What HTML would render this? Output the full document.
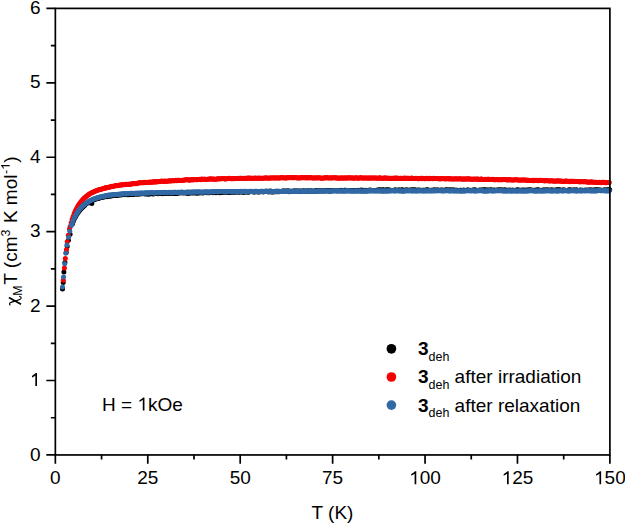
<!DOCTYPE html>
<html><head><meta charset="utf-8"><style>
html,body{margin:0;padding:0;background:#fff;width:625px;height:524px;overflow:hidden}
svg{display:block}
.o{fill-opacity:0}
text{font-family:"Liberation Sans",sans-serif;font-size:19px;fill:#000}
</style></head><body>
<svg width="625" height="524" viewBox="0 0 625 524">
<rect width="625" height="524" fill="#fff"/>
<g fill="#000"><circle cx="62.5" cy="288.9" r="2.5"/><circle cx="63.2" cy="282.4" r="2.5"/><circle cx="63.9" cy="272.0" r="2.5"/><circle cx="64.9" cy="262.5" r="2.5"/><circle cx="66.2" cy="252.5" r="2.5"/><circle cx="67.2" cy="246.5" r="2.5"/><circle cx="68.4" cy="240.3" r="2.5"/><circle cx="70.1" cy="234.3" r="2.5"/><circle cx="72.36" cy="223.99" r="2.5"/><circle cx="73.47" cy="221.10" r="2.5"/><circle cx="74.57" cy="218.58" r="2.5"/><circle cx="75.50" cy="216.72" r="2.5"/><circle cx="76.42" cy="215.04" r="2.5"/><circle cx="77.35" cy="213.53" r="2.5"/><circle cx="78.27" cy="212.16" r="2.5"/><circle cx="79.20" cy="210.90" r="2.5"/><circle cx="80.12" cy="209.76" r="2.5"/><circle cx="81.04" cy="208.72" r="2.5"/><circle cx="81.97" cy="207.76" r="2.5"/><circle cx="82.89" cy="206.88" r="2.5"/><circle cx="83.82" cy="206.07" r="2.5"/><circle cx="84.74" cy="205.32" r="2.5"/><circle cx="85.67" cy="204.12" r="2.5"/><circle cx="86.59" cy="203.47" r="2.5"/><circle cx="87.51" cy="202.88" r="2.5"/><circle cx="88.44" cy="202.32" r="2.5"/><circle cx="89.36" cy="201.80" r="2.5"/><circle cx="90.29" cy="201.31" r="2.5"/><circle cx="91.21" cy="200.86" r="2.5"/><circle cx="92.14" cy="200.44" r="2.5"/><circle cx="93.06" cy="200.04" r="2.5"/><circle cx="93.98" cy="199.67" r="2.5"/><circle cx="94.91" cy="199.33" r="2.5"/><circle cx="95.83" cy="199.00" r="2.5"/><circle cx="96.76" cy="198.70" r="2.5"/><circle cx="97.68" cy="198.41" r="2.5"/><circle cx="98.60" cy="198.14" r="2.5"/><circle cx="99.53" cy="197.89" r="2.5"/><circle cx="100.45" cy="197.42" r="2.5"/><circle cx="101.38" cy="197.47" r="2.5"/><circle cx="102.30" cy="197.10" r="2.5"/><circle cx="103.23" cy="197.11" r="2.5"/><circle cx="104.15" cy="196.94" r="2.5"/><circle cx="105.07" cy="196.26" r="2.5"/><circle cx="106.00" cy="196.05" r="2.5"/><circle cx="106.92" cy="196.64" r="2.5"/><circle cx="107.85" cy="195.97" r="2.5"/><circle cx="108.77" cy="195.80" r="2.5"/><circle cx="109.70" cy="196.36" r="2.5"/><circle cx="110.62" cy="195.76" r="2.5"/><circle cx="111.54" cy="195.97" r="2.5"/><circle cx="112.47" cy="195.54" r="2.5"/><circle cx="113.39" cy="195.58" r="2.5"/><circle cx="114.32" cy="195.04" r="2.5"/><circle cx="115.24" cy="195.38" r="2.5"/><circle cx="116.17" cy="195.49" r="2.5"/><circle cx="117.09" cy="195.10" r="2.5"/><circle cx="118.01" cy="195.21" r="2.5"/><circle cx="118.94" cy="195.07" r="2.5"/><circle cx="119.86" cy="194.45" r="2.5"/><circle cx="120.79" cy="195.01" r="2.5"/><circle cx="121.71" cy="194.79" r="2.5"/><circle cx="122.64" cy="194.46" r="2.5"/><circle cx="123.56" cy="194.16" r="2.5"/><circle cx="124.48" cy="194.85" r="2.5"/><circle cx="125.41" cy="194.44" r="2.5"/><circle cx="126.33" cy="194.61" r="2.5"/><circle cx="127.26" cy="194.70" r="2.5"/><circle cx="128.18" cy="194.51" r="2.5"/><circle cx="129.11" cy="194.65" r="2.5"/><circle cx="130.03" cy="194.13" r="2.5"/><circle cx="130.95" cy="194.45" r="2.5"/><circle cx="131.88" cy="194.09" r="2.5"/><circle cx="132.80" cy="194.49" r="2.5"/><circle cx="133.73" cy="194.40" r="2.5"/><circle cx="134.65" cy="193.66" r="2.5"/><circle cx="135.57" cy="193.66" r="2.5"/><circle cx="136.50" cy="193.70" r="2.5"/><circle cx="137.42" cy="194.34" r="2.5"/><circle cx="138.35" cy="193.83" r="2.5"/><circle cx="139.27" cy="193.97" r="2.5"/><circle cx="140.20" cy="193.65" r="2.5"/><circle cx="141.12" cy="193.80" r="2.5"/><circle cx="142.04" cy="193.66" r="2.5"/><circle cx="142.97" cy="193.60" r="2.5"/><circle cx="143.89" cy="193.79" r="2.5"/><circle cx="144.82" cy="193.76" r="2.5"/><circle cx="145.74" cy="194.02" r="2.5"/><circle cx="146.67" cy="193.80" r="2.5"/><circle cx="147.59" cy="194.00" r="2.5"/><circle cx="148.51" cy="193.91" r="2.5"/><circle cx="149.44" cy="194.01" r="2.5"/><circle cx="150.36" cy="193.70" r="2.5"/><circle cx="151.29" cy="193.22" r="2.5"/><circle cx="152.21" cy="193.82" r="2.5"/><circle cx="153.14" cy="193.89" r="2.5"/><circle cx="154.06" cy="193.82" r="2.5"/><circle cx="154.98" cy="193.50" r="2.5"/><circle cx="155.91" cy="193.61" r="2.5"/><circle cx="156.83" cy="193.14" r="2.5"/><circle cx="157.76" cy="193.67" r="2.5"/><circle cx="158.68" cy="193.42" r="2.5"/><circle cx="159.61" cy="193.15" r="2.5"/><circle cx="160.53" cy="192.93" r="2.5"/><circle cx="161.45" cy="193.62" r="2.5"/><circle cx="162.38" cy="193.73" r="2.5"/><circle cx="163.30" cy="192.90" r="2.5"/><circle cx="164.23" cy="193.52" r="2.5"/><circle cx="165.15" cy="193.15" r="2.5"/><circle cx="166.08" cy="192.90" r="2.5"/><circle cx="167.00" cy="193.01" r="2.5"/><circle cx="167.92" cy="193.43" r="2.5"/><circle cx="168.85" cy="193.50" r="2.5"/><circle cx="169.77" cy="192.74" r="2.5"/><circle cx="170.70" cy="193.24" r="2.5"/><circle cx="171.62" cy="192.71" r="2.5"/><circle cx="172.54" cy="193.30" r="2.5"/><circle cx="173.47" cy="192.94" r="2.5"/><circle cx="174.39" cy="193.42" r="2.5"/><circle cx="175.32" cy="193.49" r="2.5"/><circle cx="176.24" cy="193.05" r="2.5"/><circle cx="177.17" cy="193.48" r="2.5"/><circle cx="178.09" cy="192.84" r="2.5"/><circle cx="179.01" cy="192.62" r="2.5"/><circle cx="179.94" cy="193.08" r="2.5"/><circle cx="180.86" cy="192.55" r="2.5"/><circle cx="181.79" cy="192.69" r="2.5"/><circle cx="182.71" cy="192.86" r="2.5"/><circle cx="183.64" cy="193.03" r="2.5"/><circle cx="184.56" cy="192.61" r="2.5"/><circle cx="185.48" cy="192.49" r="2.5"/><circle cx="186.41" cy="193.22" r="2.5"/><circle cx="187.33" cy="192.71" r="2.5"/><circle cx="188.26" cy="193.28" r="2.5"/><circle cx="189.18" cy="193.21" r="2.5"/><circle cx="190.11" cy="192.73" r="2.5"/><circle cx="191.03" cy="192.79" r="2.5"/><circle cx="191.95" cy="192.83" r="2.5"/><circle cx="192.88" cy="192.93" r="2.5"/><circle cx="193.80" cy="192.87" r="2.5"/><circle cx="194.73" cy="192.83" r="2.5"/><circle cx="195.65" cy="192.87" r="2.5"/><circle cx="196.58" cy="193.15" r="2.5"/><circle cx="197.50" cy="192.75" r="2.5"/><circle cx="198.42" cy="192.67" r="2.5"/><circle cx="199.35" cy="192.91" r="2.5"/><circle cx="200.27" cy="192.47" r="2.5"/><circle cx="201.20" cy="192.51" r="2.5"/><circle cx="202.12" cy="193.11" r="2.5"/><circle cx="203.05" cy="192.69" r="2.5"/><circle cx="203.97" cy="192.70" r="2.5"/><circle cx="204.89" cy="192.19" r="2.5"/><circle cx="205.82" cy="192.54" r="2.5"/><circle cx="206.74" cy="192.67" r="2.5"/><circle cx="207.67" cy="192.15" r="2.5"/><circle cx="208.59" cy="192.67" r="2.5"/><circle cx="209.51" cy="192.66" r="2.5"/><circle cx="210.44" cy="192.13" r="2.5"/><circle cx="211.36" cy="192.62" r="2.5"/><circle cx="212.29" cy="192.46" r="2.5"/><circle cx="213.21" cy="192.63" r="2.5"/><circle cx="214.14" cy="192.32" r="2.5"/><circle cx="215.06" cy="192.62" r="2.5"/><circle cx="215.98" cy="192.64" r="2.5"/><circle cx="216.91" cy="191.97" r="2.5"/><circle cx="217.83" cy="191.99" r="2.5"/><circle cx="218.76" cy="192.53" r="2.5"/><circle cx="219.68" cy="192.77" r="2.5"/><circle cx="220.61" cy="192.11" r="2.5"/><circle cx="221.53" cy="192.28" r="2.5"/><circle cx="222.45" cy="192.39" r="2.5"/><circle cx="223.38" cy="192.12" r="2.5"/><circle cx="224.30" cy="192.15" r="2.5"/><circle cx="225.23" cy="192.08" r="2.5"/><circle cx="226.15" cy="192.12" r="2.5"/><circle cx="227.08" cy="192.30" r="2.5"/><circle cx="228.00" cy="192.02" r="2.5"/><circle cx="228.92" cy="192.08" r="2.5"/><circle cx="229.85" cy="192.41" r="2.5"/><circle cx="230.77" cy="191.73" r="2.5"/><circle cx="231.70" cy="192.20" r="2.5"/><circle cx="232.62" cy="192.33" r="2.5"/><circle cx="233.55" cy="191.93" r="2.5"/><circle cx="234.47" cy="191.84" r="2.5"/><circle cx="235.39" cy="192.35" r="2.5"/><circle cx="236.32" cy="191.82" r="2.5"/><circle cx="237.24" cy="191.76" r="2.5"/><circle cx="238.17" cy="191.97" r="2.5"/><circle cx="239.09" cy="192.19" r="2.5"/><circle cx="240.02" cy="191.64" r="2.5"/><circle cx="240.94" cy="191.82" r="2.5"/><circle cx="241.86" cy="191.82" r="2.5"/><circle cx="242.79" cy="192.25" r="2.5"/><circle cx="243.71" cy="191.88" r="2.5"/><circle cx="244.64" cy="192.24" r="2.5"/><circle cx="245.56" cy="191.61" r="2.5"/><circle cx="246.48" cy="191.74" r="2.5"/><circle cx="247.41" cy="192.01" r="2.5"/><circle cx="248.33" cy="192.21" r="2.5"/><circle cx="249.26" cy="191.80" r="2.5"/><circle cx="250.18" cy="191.58" r="2.5"/><circle cx="251.11" cy="191.47" r="2.5"/><circle cx="252.03" cy="191.83" r="2.5"/><circle cx="252.95" cy="191.51" r="2.5"/><circle cx="253.88" cy="192.05" r="2.5"/><circle cx="254.80" cy="192.06" r="2.5"/><circle cx="255.73" cy="191.46" r="2.5"/><circle cx="256.65" cy="191.53" r="2.5"/><circle cx="257.58" cy="191.99" r="2.5"/><circle cx="258.50" cy="191.83" r="2.5"/><circle cx="259.42" cy="191.96" r="2.5"/><circle cx="260.35" cy="191.53" r="2.5"/><circle cx="261.27" cy="191.33" r="2.5"/><circle cx="262.20" cy="191.46" r="2.5"/><circle cx="263.12" cy="191.90" r="2.5"/><circle cx="264.05" cy="191.41" r="2.5"/><circle cx="264.97" cy="191.47" r="2.5"/><circle cx="265.89" cy="191.51" r="2.5"/><circle cx="266.82" cy="191.50" r="2.5"/><circle cx="267.74" cy="191.48" r="2.5"/><circle cx="268.67" cy="191.93" r="2.5"/><circle cx="269.59" cy="191.23" r="2.5"/><circle cx="270.52" cy="191.08" r="2.5"/><circle cx="271.44" cy="191.91" r="2.5"/><circle cx="272.36" cy="191.84" r="2.5"/><circle cx="273.29" cy="191.92" r="2.5"/><circle cx="274.21" cy="191.41" r="2.5"/><circle cx="275.14" cy="191.86" r="2.5"/><circle cx="276.06" cy="191.83" r="2.5"/><circle cx="276.99" cy="191.18" r="2.5"/><circle cx="277.91" cy="191.64" r="2.5"/><circle cx="278.83" cy="191.71" r="2.5"/><circle cx="279.76" cy="191.54" r="2.5"/><circle cx="280.68" cy="191.40" r="2.5"/><circle cx="281.61" cy="191.18" r="2.5"/><circle cx="282.53" cy="191.21" r="2.5"/><circle cx="283.45" cy="191.10" r="2.5"/><circle cx="284.38" cy="190.94" r="2.5"/><circle cx="285.30" cy="191.40" r="2.5"/><circle cx="286.23" cy="191.11" r="2.5"/><circle cx="287.15" cy="191.57" r="2.5"/><circle cx="288.08" cy="190.87" r="2.5"/><circle cx="289.00" cy="191.63" r="2.5"/><circle cx="289.92" cy="191.43" r="2.5"/><circle cx="290.85" cy="191.62" r="2.5"/><circle cx="291.77" cy="191.59" r="2.5"/><circle cx="292.70" cy="191.58" r="2.5"/><circle cx="293.62" cy="191.28" r="2.5"/><circle cx="294.55" cy="190.76" r="2.5"/><circle cx="295.47" cy="191.40" r="2.5"/><circle cx="296.39" cy="190.88" r="2.5"/><circle cx="297.32" cy="190.98" r="2.5"/><circle cx="298.24" cy="191.29" r="2.5"/><circle cx="299.17" cy="191.16" r="2.5"/><circle cx="300.09" cy="191.05" r="2.5"/><circle cx="301.02" cy="191.51" r="2.5"/><circle cx="301.94" cy="191.20" r="2.5"/><circle cx="302.86" cy="190.95" r="2.5"/><circle cx="303.79" cy="190.86" r="2.5"/><circle cx="304.71" cy="191.39" r="2.5"/><circle cx="305.64" cy="191.04" r="2.5"/><circle cx="306.56" cy="191.30" r="2.5"/><circle cx="307.49" cy="190.90" r="2.5"/><circle cx="308.41" cy="190.75" r="2.5"/><circle cx="309.33" cy="191.04" r="2.5"/><circle cx="310.26" cy="191.29" r="2.5"/><circle cx="311.18" cy="190.69" r="2.5"/><circle cx="312.11" cy="191.24" r="2.5"/><circle cx="313.03" cy="191.35" r="2.5"/><circle cx="313.96" cy="191.23" r="2.5"/><circle cx="314.88" cy="191.24" r="2.5"/><circle cx="315.80" cy="190.49" r="2.5"/><circle cx="316.73" cy="191.04" r="2.5"/><circle cx="317.65" cy="191.24" r="2.5"/><circle cx="318.58" cy="190.50" r="2.5"/><circle cx="319.50" cy="190.69" r="2.5"/><circle cx="320.42" cy="190.67" r="2.5"/><circle cx="321.35" cy="190.90" r="2.5"/><circle cx="322.27" cy="190.79" r="2.5"/><circle cx="323.20" cy="190.83" r="2.5"/><circle cx="324.12" cy="191.09" r="2.5"/><circle cx="325.05" cy="190.38" r="2.5"/><circle cx="325.97" cy="190.42" r="2.5"/><circle cx="326.89" cy="190.47" r="2.5"/><circle cx="327.82" cy="190.46" r="2.5"/><circle cx="328.74" cy="190.40" r="2.5"/><circle cx="329.67" cy="191.21" r="2.5"/><circle cx="330.59" cy="191.09" r="2.5"/><circle cx="331.52" cy="190.39" r="2.5"/><circle cx="332.44" cy="190.75" r="2.5"/><circle cx="333.36" cy="190.57" r="2.5"/><circle cx="334.29" cy="190.56" r="2.5"/><circle cx="335.21" cy="190.58" r="2.5"/><circle cx="336.14" cy="190.84" r="2.5"/><circle cx="337.06" cy="190.78" r="2.5"/><circle cx="337.99" cy="190.56" r="2.5"/><circle cx="338.91" cy="190.40" r="2.5"/><circle cx="339.83" cy="190.52" r="2.5"/><circle cx="340.76" cy="190.32" r="2.5"/><circle cx="341.68" cy="190.70" r="2.5"/><circle cx="342.61" cy="190.84" r="2.5"/><circle cx="343.53" cy="190.52" r="2.5"/><circle cx="344.46" cy="190.24" r="2.5"/><circle cx="345.38" cy="190.32" r="2.5"/><circle cx="346.30" cy="190.49" r="2.5"/><circle cx="347.23" cy="190.69" r="2.5"/><circle cx="348.15" cy="190.84" r="2.5"/><circle cx="349.08" cy="190.47" r="2.5"/><circle cx="350.00" cy="190.84" r="2.5"/><circle cx="350.93" cy="190.67" r="2.5"/><circle cx="351.85" cy="190.49" r="2.5"/><circle cx="352.77" cy="190.42" r="2.5"/><circle cx="353.70" cy="190.53" r="2.5"/><circle cx="354.62" cy="190.70" r="2.5"/><circle cx="355.55" cy="190.44" r="2.5"/><circle cx="356.47" cy="190.68" r="2.5"/><circle cx="357.39" cy="190.46" r="2.5"/><circle cx="358.32" cy="190.25" r="2.5"/><circle cx="359.24" cy="190.51" r="2.5"/><circle cx="360.17" cy="190.64" r="2.5"/><circle cx="361.09" cy="190.07" r="2.5"/><circle cx="362.02" cy="190.38" r="2.5"/><circle cx="362.94" cy="190.37" r="2.5"/><circle cx="363.86" cy="190.77" r="2.5"/><circle cx="364.79" cy="190.81" r="2.5"/><circle cx="365.71" cy="190.30" r="2.5"/><circle cx="366.64" cy="190.76" r="2.5"/><circle cx="367.56" cy="190.66" r="2.5"/><circle cx="368.49" cy="190.17" r="2.5"/><circle cx="369.41" cy="190.35" r="2.5"/><circle cx="370.33" cy="190.03" r="2.5"/><circle cx="371.26" cy="190.64" r="2.5"/><circle cx="372.18" cy="190.50" r="2.5"/><circle cx="373.11" cy="190.69" r="2.5"/><circle cx="374.03" cy="190.60" r="2.5"/><circle cx="374.96" cy="190.48" r="2.5"/><circle cx="375.88" cy="190.53" r="2.5"/><circle cx="376.80" cy="190.37" r="2.5"/><circle cx="377.73" cy="189.95" r="2.5"/><circle cx="378.65" cy="190.37" r="2.5"/><circle cx="379.58" cy="189.84" r="2.5"/><circle cx="380.50" cy="189.96" r="2.5"/><circle cx="381.43" cy="190.52" r="2.5"/><circle cx="382.35" cy="189.85" r="2.5"/><circle cx="383.27" cy="189.89" r="2.5"/><circle cx="384.20" cy="189.88" r="2.5"/><circle cx="385.12" cy="190.58" r="2.5"/><circle cx="386.05" cy="189.94" r="2.5"/><circle cx="386.97" cy="189.79" r="2.5"/><circle cx="387.90" cy="190.52" r="2.5"/><circle cx="388.82" cy="189.87" r="2.5"/><circle cx="389.74" cy="190.52" r="2.5"/><circle cx="390.67" cy="190.36" r="2.5"/><circle cx="391.59" cy="190.51" r="2.5"/><circle cx="392.52" cy="190.61" r="2.5"/><circle cx="393.44" cy="190.28" r="2.5"/><circle cx="394.36" cy="190.47" r="2.5"/><circle cx="395.29" cy="189.79" r="2.5"/><circle cx="396.21" cy="190.44" r="2.5"/><circle cx="397.14" cy="190.21" r="2.5"/><circle cx="398.06" cy="190.40" r="2.5"/><circle cx="398.99" cy="189.85" r="2.5"/><circle cx="399.91" cy="190.42" r="2.5"/><circle cx="400.83" cy="190.59" r="2.5"/><circle cx="401.76" cy="189.80" r="2.5"/><circle cx="402.68" cy="190.04" r="2.5"/><circle cx="403.61" cy="190.26" r="2.5"/><circle cx="404.53" cy="190.49" r="2.5"/><circle cx="405.46" cy="189.96" r="2.5"/><circle cx="406.38" cy="189.91" r="2.5"/><circle cx="407.30" cy="189.97" r="2.5"/><circle cx="408.23" cy="190.30" r="2.5"/><circle cx="409.15" cy="190.42" r="2.5"/><circle cx="410.08" cy="190.10" r="2.5"/><circle cx="411.00" cy="190.07" r="2.5"/><circle cx="411.93" cy="190.10" r="2.5"/><circle cx="412.85" cy="190.06" r="2.5"/><circle cx="413.77" cy="190.12" r="2.5"/><circle cx="414.70" cy="189.82" r="2.5"/><circle cx="415.62" cy="190.19" r="2.5"/><circle cx="416.55" cy="190.62" r="2.5"/><circle cx="417.47" cy="190.11" r="2.5"/><circle cx="418.40" cy="190.41" r="2.5"/><circle cx="419.32" cy="189.88" r="2.5"/><circle cx="420.24" cy="190.36" r="2.5"/><circle cx="421.17" cy="190.42" r="2.5"/><circle cx="422.09" cy="190.35" r="2.5"/><circle cx="423.02" cy="190.20" r="2.5"/><circle cx="423.94" cy="190.17" r="2.5"/><circle cx="424.87" cy="190.32" r="2.5"/><circle cx="425.79" cy="190.55" r="2.5"/><circle cx="426.71" cy="189.87" r="2.5"/><circle cx="427.64" cy="189.82" r="2.5"/><circle cx="428.56" cy="190.41" r="2.5"/><circle cx="429.49" cy="190.56" r="2.5"/><circle cx="430.41" cy="190.20" r="2.5"/><circle cx="431.33" cy="190.14" r="2.5"/><circle cx="432.26" cy="190.38" r="2.5"/><circle cx="433.18" cy="189.90" r="2.5"/><circle cx="434.11" cy="189.98" r="2.5"/><circle cx="435.03" cy="189.92" r="2.5"/><circle cx="435.96" cy="190.26" r="2.5"/><circle cx="436.88" cy="190.02" r="2.5"/><circle cx="437.80" cy="189.95" r="2.5"/><circle cx="438.73" cy="190.36" r="2.5"/><circle cx="439.65" cy="190.59" r="2.5"/><circle cx="440.58" cy="190.00" r="2.5"/><circle cx="441.50" cy="190.37" r="2.5"/><circle cx="442.43" cy="190.11" r="2.5"/><circle cx="443.35" cy="190.50" r="2.5"/><circle cx="444.27" cy="190.26" r="2.5"/><circle cx="445.20" cy="189.98" r="2.5"/><circle cx="446.12" cy="189.93" r="2.5"/><circle cx="447.05" cy="189.76" r="2.5"/><circle cx="447.97" cy="190.17" r="2.5"/><circle cx="448.90" cy="190.08" r="2.5"/><circle cx="449.82" cy="189.89" r="2.5"/><circle cx="450.74" cy="190.06" r="2.5"/><circle cx="451.67" cy="190.03" r="2.5"/><circle cx="452.59" cy="190.43" r="2.5"/><circle cx="453.52" cy="189.87" r="2.5"/><circle cx="454.44" cy="190.63" r="2.5"/><circle cx="455.37" cy="190.17" r="2.5"/><circle cx="456.29" cy="190.28" r="2.5"/><circle cx="457.21" cy="190.16" r="2.5"/><circle cx="458.14" cy="190.49" r="2.5"/><circle cx="459.06" cy="190.48" r="2.5"/><circle cx="459.99" cy="190.24" r="2.5"/><circle cx="460.91" cy="190.17" r="2.5"/><circle cx="461.84" cy="190.39" r="2.5"/><circle cx="462.76" cy="190.51" r="2.5"/><circle cx="463.68" cy="190.10" r="2.5"/><circle cx="464.61" cy="190.40" r="2.5"/><circle cx="465.53" cy="190.60" r="2.5"/><circle cx="466.46" cy="190.16" r="2.5"/><circle cx="467.38" cy="189.95" r="2.5"/><circle cx="468.30" cy="189.95" r="2.5"/><circle cx="469.23" cy="190.39" r="2.5"/><circle cx="470.15" cy="190.35" r="2.5"/><circle cx="471.08" cy="190.60" r="2.5"/><circle cx="472.00" cy="190.51" r="2.5"/><circle cx="472.93" cy="189.96" r="2.5"/><circle cx="473.85" cy="189.91" r="2.5"/><circle cx="474.77" cy="189.97" r="2.5"/><circle cx="475.70" cy="189.91" r="2.5"/><circle cx="476.62" cy="190.38" r="2.5"/><circle cx="477.55" cy="190.51" r="2.5"/><circle cx="478.47" cy="190.55" r="2.5"/><circle cx="479.40" cy="189.97" r="2.5"/><circle cx="480.32" cy="190.52" r="2.5"/><circle cx="481.24" cy="190.02" r="2.5"/><circle cx="482.17" cy="190.12" r="2.5"/><circle cx="483.09" cy="190.40" r="2.5"/><circle cx="484.02" cy="189.82" r="2.5"/><circle cx="484.94" cy="189.83" r="2.5"/><circle cx="485.87" cy="190.49" r="2.5"/><circle cx="486.79" cy="190.01" r="2.5"/><circle cx="487.71" cy="190.06" r="2.5"/><circle cx="488.64" cy="190.27" r="2.5"/><circle cx="489.56" cy="190.35" r="2.5"/><circle cx="490.49" cy="189.75" r="2.5"/><circle cx="491.41" cy="190.04" r="2.5"/><circle cx="492.34" cy="190.14" r="2.5"/><circle cx="493.26" cy="190.18" r="2.5"/><circle cx="494.18" cy="189.93" r="2.5"/><circle cx="495.11" cy="190.27" r="2.5"/><circle cx="496.03" cy="190.60" r="2.5"/><circle cx="496.96" cy="190.10" r="2.5"/><circle cx="497.88" cy="190.23" r="2.5"/><circle cx="498.81" cy="189.85" r="2.5"/><circle cx="499.73" cy="189.99" r="2.5"/><circle cx="500.65" cy="190.34" r="2.5"/><circle cx="501.58" cy="189.85" r="2.5"/><circle cx="502.50" cy="190.54" r="2.5"/><circle cx="503.43" cy="190.56" r="2.5"/><circle cx="504.35" cy="189.83" r="2.5"/><circle cx="505.27" cy="190.59" r="2.5"/><circle cx="506.20" cy="190.08" r="2.5"/><circle cx="507.12" cy="190.44" r="2.5"/><circle cx="508.05" cy="190.43" r="2.5"/><circle cx="508.97" cy="190.01" r="2.5"/><circle cx="509.90" cy="190.35" r="2.5"/><circle cx="510.82" cy="190.33" r="2.5"/><circle cx="511.74" cy="190.47" r="2.5"/><circle cx="512.67" cy="189.98" r="2.5"/><circle cx="513.59" cy="190.42" r="2.5"/><circle cx="514.52" cy="190.61" r="2.5"/><circle cx="515.44" cy="190.35" r="2.5"/><circle cx="516.37" cy="190.23" r="2.5"/><circle cx="517.29" cy="189.85" r="2.5"/><circle cx="518.21" cy="190.19" r="2.5"/><circle cx="519.14" cy="190.06" r="2.5"/><circle cx="520.06" cy="190.39" r="2.5"/><circle cx="520.99" cy="190.35" r="2.5"/><circle cx="521.91" cy="190.25" r="2.5"/><circle cx="522.84" cy="189.91" r="2.5"/><circle cx="523.76" cy="190.32" r="2.5"/><circle cx="524.68" cy="190.31" r="2.5"/><circle cx="525.61" cy="189.90" r="2.5"/><circle cx="526.53" cy="190.54" r="2.5"/><circle cx="527.46" cy="190.33" r="2.5"/><circle cx="528.38" cy="189.85" r="2.5"/><circle cx="529.31" cy="190.58" r="2.5"/><circle cx="530.23" cy="189.87" r="2.5"/><circle cx="531.15" cy="190.04" r="2.5"/><circle cx="532.08" cy="190.39" r="2.5"/><circle cx="533.00" cy="190.28" r="2.5"/><circle cx="533.93" cy="190.24" r="2.5"/><circle cx="534.85" cy="190.32" r="2.5"/><circle cx="535.78" cy="190.15" r="2.5"/><circle cx="536.70" cy="190.02" r="2.5"/><circle cx="537.62" cy="189.90" r="2.5"/><circle cx="538.55" cy="189.80" r="2.5"/><circle cx="539.47" cy="190.38" r="2.5"/><circle cx="540.40" cy="190.42" r="2.5"/><circle cx="541.32" cy="190.23" r="2.5"/><circle cx="542.24" cy="190.40" r="2.5"/><circle cx="543.17" cy="190.06" r="2.5"/><circle cx="544.09" cy="189.97" r="2.5"/><circle cx="545.02" cy="190.08" r="2.5"/><circle cx="545.94" cy="190.52" r="2.5"/><circle cx="546.87" cy="189.77" r="2.5"/><circle cx="547.79" cy="190.19" r="2.5"/><circle cx="548.71" cy="189.95" r="2.5"/><circle cx="549.64" cy="190.42" r="2.5"/><circle cx="550.56" cy="190.05" r="2.5"/><circle cx="551.49" cy="190.03" r="2.5"/><circle cx="552.41" cy="190.09" r="2.5"/><circle cx="553.34" cy="190.22" r="2.5"/><circle cx="554.26" cy="190.42" r="2.5"/><circle cx="555.18" cy="190.04" r="2.5"/><circle cx="556.11" cy="190.49" r="2.5"/><circle cx="557.03" cy="189.83" r="2.5"/><circle cx="557.96" cy="189.97" r="2.5"/><circle cx="558.88" cy="189.81" r="2.5"/><circle cx="559.81" cy="189.82" r="2.5"/><circle cx="560.73" cy="190.42" r="2.5"/><circle cx="561.65" cy="190.38" r="2.5"/><circle cx="562.58" cy="189.89" r="2.5"/><circle cx="563.50" cy="189.89" r="2.5"/><circle cx="564.43" cy="190.09" r="2.5"/><circle cx="565.35" cy="190.39" r="2.5"/><circle cx="566.28" cy="190.45" r="2.5"/><circle cx="567.20" cy="190.39" r="2.5"/><circle cx="568.12" cy="190.25" r="2.5"/><circle cx="569.05" cy="189.84" r="2.5"/><circle cx="569.97" cy="190.07" r="2.5"/><circle cx="570.90" cy="189.88" r="2.5"/><circle cx="571.82" cy="190.18" r="2.5"/><circle cx="572.75" cy="190.22" r="2.5"/><circle cx="573.67" cy="189.89" r="2.5"/><circle cx="574.59" cy="189.93" r="2.5"/><circle cx="575.52" cy="190.41" r="2.5"/><circle cx="576.44" cy="189.73" r="2.5"/><circle cx="577.37" cy="190.42" r="2.5"/><circle cx="578.29" cy="190.50" r="2.5"/><circle cx="579.21" cy="190.55" r="2.5"/><circle cx="580.14" cy="190.04" r="2.5"/><circle cx="581.06" cy="190.19" r="2.5"/><circle cx="581.99" cy="190.22" r="2.5"/><circle cx="582.91" cy="190.26" r="2.5"/><circle cx="583.84" cy="190.57" r="2.5"/><circle cx="584.76" cy="190.31" r="2.5"/><circle cx="585.68" cy="189.96" r="2.5"/><circle cx="586.61" cy="190.46" r="2.5"/><circle cx="587.53" cy="190.12" r="2.5"/><circle cx="588.46" cy="190.22" r="2.5"/><circle cx="589.38" cy="190.33" r="2.5"/><circle cx="590.31" cy="189.68" r="2.5"/><circle cx="591.23" cy="190.37" r="2.5"/><circle cx="592.15" cy="190.27" r="2.5"/><circle cx="593.08" cy="190.11" r="2.5"/><circle cx="594.00" cy="190.14" r="2.5"/><circle cx="594.93" cy="190.08" r="2.5"/><circle cx="595.85" cy="189.84" r="2.5"/><circle cx="596.78" cy="190.14" r="2.5"/><circle cx="597.70" cy="189.69" r="2.5"/><circle cx="598.62" cy="190.11" r="2.5"/><circle cx="599.55" cy="190.24" r="2.5"/><circle cx="600.47" cy="190.05" r="2.5"/><circle cx="601.40" cy="190.16" r="2.5"/><circle cx="602.32" cy="190.51" r="2.5"/><circle cx="603.25" cy="190.45" r="2.5"/><circle cx="604.17" cy="189.77" r="2.5"/><circle cx="605.09" cy="190.36" r="2.5"/><circle cx="606.02" cy="190.20" r="2.5"/><circle cx="606.94" cy="189.68" r="2.5"/><circle cx="607.87" cy="189.96" r="2.5"/><circle cx="608.79" cy="189.84" r="2.5"/><circle cx="609.72" cy="189.70" r="2.5"/><circle cx="91.8" cy="203.5" r="2.5"/></g>
<g fill="#f50000"><circle cx="63.3" cy="280.3" r="2.5"/><circle cx="64.4" cy="268.1" r="2.5"/><circle cx="65.3" cy="258.5" r="2.5"/><circle cx="66.4" cy="249.7" r="2.5"/><circle cx="67.2" cy="241.8" r="2.5"/><circle cx="68.3" cy="235.3" r="2.5"/><circle cx="69.5" cy="229.0" r="2.5"/><circle cx="70.14" cy="226.58" r="2.5"/><circle cx="71.14" cy="222.72" r="2.5"/><circle cx="72.13" cy="219.36" r="2.5"/><circle cx="73.13" cy="216.40" r="2.5"/><circle cx="74.13" cy="213.79" r="2.5"/><circle cx="75.06" cy="211.62" r="2.5"/><circle cx="75.98" cy="209.67" r="2.5"/><circle cx="76.90" cy="207.89" r="2.5"/><circle cx="77.83" cy="206.28" r="2.5"/><circle cx="78.75" cy="204.79" r="2.5"/><circle cx="79.68" cy="203.43" r="2.5"/><circle cx="80.60" cy="202.18" r="2.5"/><circle cx="81.52" cy="201.02" r="2.5"/><circle cx="82.45" cy="199.95" r="2.5"/><circle cx="83.37" cy="198.97" r="2.5"/><circle cx="84.30" cy="198.05" r="2.5"/><circle cx="85.22" cy="197.20" r="2.5"/><circle cx="86.15" cy="196.42" r="2.5"/><circle cx="87.07" cy="195.69" r="2.5"/><circle cx="87.99" cy="195.02" r="2.5"/><circle cx="88.92" cy="194.40" r="2.5"/><circle cx="89.84" cy="193.82" r="2.5"/><circle cx="90.77" cy="193.28" r="2.5"/><circle cx="91.69" cy="192.78" r="2.5"/><circle cx="92.62" cy="192.31" r="2.5"/><circle cx="93.54" cy="191.88" r="2.5"/><circle cx="94.46" cy="191.46" r="2.5"/><circle cx="95.39" cy="191.08" r="2.5"/><circle cx="96.31" cy="190.71" r="2.5"/><circle cx="97.24" cy="190.36" r="2.5"/><circle cx="98.16" cy="190.03" r="2.5"/><circle cx="99.09" cy="189.72" r="2.5"/><circle cx="100.01" cy="189.50" r="2.5"/><circle cx="100.93" cy="189.28" r="2.5"/><circle cx="101.86" cy="189.05" r="2.5"/><circle cx="102.78" cy="188.87" r="2.5"/><circle cx="103.71" cy="188.50" r="2.5"/><circle cx="104.63" cy="188.38" r="2.5"/><circle cx="105.56" cy="187.61" r="2.5"/><circle cx="106.48" cy="187.66" r="2.5"/><circle cx="107.40" cy="187.73" r="2.5"/><circle cx="108.33" cy="187.35" r="2.5"/><circle cx="109.25" cy="187.31" r="2.5"/><circle cx="110.18" cy="186.65" r="2.5"/><circle cx="111.10" cy="186.68" r="2.5"/><circle cx="112.03" cy="186.37" r="2.5"/><circle cx="112.95" cy="186.38" r="2.5"/><circle cx="113.87" cy="186.23" r="2.5"/><circle cx="114.80" cy="185.74" r="2.5"/><circle cx="115.72" cy="185.71" r="2.5"/><circle cx="116.65" cy="185.60" r="2.5"/><circle cx="117.57" cy="185.84" r="2.5"/><circle cx="118.49" cy="185.61" r="2.5"/><circle cx="119.42" cy="185.11" r="2.5"/><circle cx="120.34" cy="185.36" r="2.5"/><circle cx="121.27" cy="184.84" r="2.5"/><circle cx="122.19" cy="185.01" r="2.5"/><circle cx="123.12" cy="184.59" r="2.5"/><circle cx="124.04" cy="184.40" r="2.5"/><circle cx="124.96" cy="184.81" r="2.5"/><circle cx="125.89" cy="184.30" r="2.5"/><circle cx="126.81" cy="184.19" r="2.5"/><circle cx="127.74" cy="184.55" r="2.5"/><circle cx="128.66" cy="184.38" r="2.5"/><circle cx="129.59" cy="183.93" r="2.5"/><circle cx="130.51" cy="184.23" r="2.5"/><circle cx="131.43" cy="183.88" r="2.5"/><circle cx="132.36" cy="183.87" r="2.5"/><circle cx="133.28" cy="183.49" r="2.5"/><circle cx="134.21" cy="183.84" r="2.5"/><circle cx="135.13" cy="183.60" r="2.5"/><circle cx="136.06" cy="183.68" r="2.5"/><circle cx="136.98" cy="183.55" r="2.5"/><circle cx="137.90" cy="183.10" r="2.5"/><circle cx="138.83" cy="183.06" r="2.5"/><circle cx="139.75" cy="182.86" r="2.5"/><circle cx="140.68" cy="182.76" r="2.5"/><circle cx="141.60" cy="182.63" r="2.5"/><circle cx="142.53" cy="182.70" r="2.5"/><circle cx="143.45" cy="182.80" r="2.5"/><circle cx="144.37" cy="182.36" r="2.5"/><circle cx="145.30" cy="182.69" r="2.5"/><circle cx="146.22" cy="182.41" r="2.5"/><circle cx="147.15" cy="182.32" r="2.5"/><circle cx="148.07" cy="182.56" r="2.5"/><circle cx="149.00" cy="182.28" r="2.5"/><circle cx="149.92" cy="182.11" r="2.5"/><circle cx="150.84" cy="182.14" r="2.5"/><circle cx="151.77" cy="182.21" r="2.5"/><circle cx="152.69" cy="181.75" r="2.5"/><circle cx="153.62" cy="182.23" r="2.5"/><circle cx="154.54" cy="181.60" r="2.5"/><circle cx="155.46" cy="181.97" r="2.5"/><circle cx="156.39" cy="181.96" r="2.5"/><circle cx="157.31" cy="181.40" r="2.5"/><circle cx="158.24" cy="181.80" r="2.5"/><circle cx="159.16" cy="181.48" r="2.5"/><circle cx="160.09" cy="181.55" r="2.5"/><circle cx="161.01" cy="181.15" r="2.5"/><circle cx="161.93" cy="181.11" r="2.5"/><circle cx="162.86" cy="181.13" r="2.5"/><circle cx="163.78" cy="181.54" r="2.5"/><circle cx="164.71" cy="181.02" r="2.5"/><circle cx="165.63" cy="181.30" r="2.5"/><circle cx="166.56" cy="181.35" r="2.5"/><circle cx="167.48" cy="181.30" r="2.5"/><circle cx="168.40" cy="180.89" r="2.5"/><circle cx="169.33" cy="180.84" r="2.5"/><circle cx="170.25" cy="180.89" r="2.5"/><circle cx="171.18" cy="180.99" r="2.5"/><circle cx="172.10" cy="180.53" r="2.5"/><circle cx="173.03" cy="180.86" r="2.5"/><circle cx="173.95" cy="180.84" r="2.5"/><circle cx="174.87" cy="180.83" r="2.5"/><circle cx="175.80" cy="180.29" r="2.5"/><circle cx="176.72" cy="180.78" r="2.5"/><circle cx="177.65" cy="180.22" r="2.5"/><circle cx="178.57" cy="180.32" r="2.5"/><circle cx="179.50" cy="180.44" r="2.5"/><circle cx="180.42" cy="180.57" r="2.5"/><circle cx="181.34" cy="180.18" r="2.5"/><circle cx="182.27" cy="180.48" r="2.5"/><circle cx="183.19" cy="180.21" r="2.5"/><circle cx="184.12" cy="180.03" r="2.5"/><circle cx="185.04" cy="179.99" r="2.5"/><circle cx="185.97" cy="179.86" r="2.5"/><circle cx="186.89" cy="179.76" r="2.5"/><circle cx="187.81" cy="179.76" r="2.5"/><circle cx="188.74" cy="180.04" r="2.5"/><circle cx="189.66" cy="180.18" r="2.5"/><circle cx="190.59" cy="179.64" r="2.5"/><circle cx="191.51" cy="179.53" r="2.5"/><circle cx="192.43" cy="180.05" r="2.5"/><circle cx="193.36" cy="179.74" r="2.5"/><circle cx="194.28" cy="179.63" r="2.5"/><circle cx="195.21" cy="179.49" r="2.5"/><circle cx="196.13" cy="179.66" r="2.5"/><circle cx="197.06" cy="179.77" r="2.5"/><circle cx="197.98" cy="179.51" r="2.5"/><circle cx="198.90" cy="179.45" r="2.5"/><circle cx="199.83" cy="179.19" r="2.5"/><circle cx="200.75" cy="179.67" r="2.5"/><circle cx="201.68" cy="179.11" r="2.5"/><circle cx="202.60" cy="179.35" r="2.5"/><circle cx="203.53" cy="179.53" r="2.5"/><circle cx="204.45" cy="179.07" r="2.5"/><circle cx="205.37" cy="179.39" r="2.5"/><circle cx="206.30" cy="179.49" r="2.5"/><circle cx="207.22" cy="179.27" r="2.5"/><circle cx="208.15" cy="179.33" r="2.5"/><circle cx="209.07" cy="178.89" r="2.5"/><circle cx="210.00" cy="179.06" r="2.5"/><circle cx="210.92" cy="178.86" r="2.5"/><circle cx="211.84" cy="179.25" r="2.5"/><circle cx="212.77" cy="178.89" r="2.5"/><circle cx="213.69" cy="178.95" r="2.5"/><circle cx="214.62" cy="179.25" r="2.5"/><circle cx="215.54" cy="179.14" r="2.5"/><circle cx="216.47" cy="179.18" r="2.5"/><circle cx="217.39" cy="178.84" r="2.5"/><circle cx="218.31" cy="178.84" r="2.5"/><circle cx="219.24" cy="178.95" r="2.5"/><circle cx="220.16" cy="178.78" r="2.5"/><circle cx="221.09" cy="178.64" r="2.5"/><circle cx="222.01" cy="178.68" r="2.5"/><circle cx="222.94" cy="178.51" r="2.5"/><circle cx="223.86" cy="178.62" r="2.5"/><circle cx="224.78" cy="178.96" r="2.5"/><circle cx="225.71" cy="178.92" r="2.5"/><circle cx="226.63" cy="178.70" r="2.5"/><circle cx="227.56" cy="178.60" r="2.5"/><circle cx="228.48" cy="178.48" r="2.5"/><circle cx="229.40" cy="178.31" r="2.5"/><circle cx="230.33" cy="178.40" r="2.5"/><circle cx="231.25" cy="178.69" r="2.5"/><circle cx="232.18" cy="178.72" r="2.5"/><circle cx="233.10" cy="178.39" r="2.5"/><circle cx="234.03" cy="178.63" r="2.5"/><circle cx="234.95" cy="178.60" r="2.5"/><circle cx="235.87" cy="178.53" r="2.5"/><circle cx="236.80" cy="178.50" r="2.5"/><circle cx="237.72" cy="178.54" r="2.5"/><circle cx="238.65" cy="178.28" r="2.5"/><circle cx="239.57" cy="178.47" r="2.5"/><circle cx="240.50" cy="178.20" r="2.5"/><circle cx="241.42" cy="178.30" r="2.5"/><circle cx="242.34" cy="178.46" r="2.5"/><circle cx="243.27" cy="178.39" r="2.5"/><circle cx="244.19" cy="178.14" r="2.5"/><circle cx="245.12" cy="178.52" r="2.5"/><circle cx="246.04" cy="178.32" r="2.5"/><circle cx="246.97" cy="178.27" r="2.5"/><circle cx="247.89" cy="177.91" r="2.5"/><circle cx="248.81" cy="178.22" r="2.5"/><circle cx="249.74" cy="178.03" r="2.5"/><circle cx="250.66" cy="178.27" r="2.5"/><circle cx="251.59" cy="178.13" r="2.5"/><circle cx="252.51" cy="178.33" r="2.5"/><circle cx="253.44" cy="178.21" r="2.5"/><circle cx="254.36" cy="178.29" r="2.5"/><circle cx="255.28" cy="178.01" r="2.5"/><circle cx="256.21" cy="178.18" r="2.5"/><circle cx="257.13" cy="178.22" r="2.5"/><circle cx="258.06" cy="178.27" r="2.5"/><circle cx="258.98" cy="177.97" r="2.5"/><circle cx="259.91" cy="178.25" r="2.5"/><circle cx="260.83" cy="178.26" r="2.5"/><circle cx="261.75" cy="178.14" r="2.5"/><circle cx="262.68" cy="178.30" r="2.5"/><circle cx="263.60" cy="178.28" r="2.5"/><circle cx="264.53" cy="178.01" r="2.5"/><circle cx="265.45" cy="178.01" r="2.5"/><circle cx="266.37" cy="177.78" r="2.5"/><circle cx="267.30" cy="178.18" r="2.5"/><circle cx="268.22" cy="178.23" r="2.5"/><circle cx="269.15" cy="177.95" r="2.5"/><circle cx="270.07" cy="178.07" r="2.5"/><circle cx="271.00" cy="178.08" r="2.5"/><circle cx="271.92" cy="178.08" r="2.5"/><circle cx="272.84" cy="177.74" r="2.5"/><circle cx="273.77" cy="178.09" r="2.5"/><circle cx="274.69" cy="177.97" r="2.5"/><circle cx="275.62" cy="178.01" r="2.5"/><circle cx="276.54" cy="177.86" r="2.5"/><circle cx="277.47" cy="177.98" r="2.5"/><circle cx="278.39" cy="178.06" r="2.5"/><circle cx="279.31" cy="177.98" r="2.5"/><circle cx="280.24" cy="178.02" r="2.5"/><circle cx="281.16" cy="177.60" r="2.5"/><circle cx="282.09" cy="177.68" r="2.5"/><circle cx="283.01" cy="177.84" r="2.5"/><circle cx="283.94" cy="177.96" r="2.5"/><circle cx="284.86" cy="177.70" r="2.5"/><circle cx="285.78" cy="177.98" r="2.5"/><circle cx="286.71" cy="177.94" r="2.5"/><circle cx="287.63" cy="177.59" r="2.5"/><circle cx="288.56" cy="177.84" r="2.5"/><circle cx="289.48" cy="177.69" r="2.5"/><circle cx="290.41" cy="177.58" r="2.5"/><circle cx="291.33" cy="177.63" r="2.5"/><circle cx="292.25" cy="177.74" r="2.5"/><circle cx="293.18" cy="177.66" r="2.5"/><circle cx="294.10" cy="177.66" r="2.5"/><circle cx="295.03" cy="177.56" r="2.5"/><circle cx="295.95" cy="177.82" r="2.5"/><circle cx="296.88" cy="177.77" r="2.5"/><circle cx="297.80" cy="177.91" r="2.5"/><circle cx="298.72" cy="177.89" r="2.5"/><circle cx="299.65" cy="177.68" r="2.5"/><circle cx="300.57" cy="178.08" r="2.5"/><circle cx="301.50" cy="177.54" r="2.5"/><circle cx="302.42" cy="177.78" r="2.5"/><circle cx="303.34" cy="177.70" r="2.5"/><circle cx="304.27" cy="177.78" r="2.5"/><circle cx="305.19" cy="177.61" r="2.5"/><circle cx="306.12" cy="178.04" r="2.5"/><circle cx="307.04" cy="177.76" r="2.5"/><circle cx="307.97" cy="177.56" r="2.5"/><circle cx="308.89" cy="177.91" r="2.5"/><circle cx="309.81" cy="177.60" r="2.5"/><circle cx="310.74" cy="177.87" r="2.5"/><circle cx="311.66" cy="177.75" r="2.5"/><circle cx="312.59" cy="177.89" r="2.5"/><circle cx="313.51" cy="178.12" r="2.5"/><circle cx="314.44" cy="178.04" r="2.5"/><circle cx="315.36" cy="177.80" r="2.5"/><circle cx="316.28" cy="178.04" r="2.5"/><circle cx="317.21" cy="177.94" r="2.5"/><circle cx="318.13" cy="177.77" r="2.5"/><circle cx="319.06" cy="177.64" r="2.5"/><circle cx="319.98" cy="177.91" r="2.5"/><circle cx="320.91" cy="177.90" r="2.5"/><circle cx="321.83" cy="178.14" r="2.5"/><circle cx="322.75" cy="178.14" r="2.5"/><circle cx="323.68" cy="177.93" r="2.5"/><circle cx="324.60" cy="177.78" r="2.5"/><circle cx="325.53" cy="178.11" r="2.5"/><circle cx="326.45" cy="177.57" r="2.5"/><circle cx="327.38" cy="177.64" r="2.5"/><circle cx="328.30" cy="177.92" r="2.5"/><circle cx="329.22" cy="177.95" r="2.5"/><circle cx="330.15" cy="177.67" r="2.5"/><circle cx="331.07" cy="177.96" r="2.5"/><circle cx="332.00" cy="178.12" r="2.5"/><circle cx="332.92" cy="177.82" r="2.5"/><circle cx="333.85" cy="177.85" r="2.5"/><circle cx="334.77" cy="177.73" r="2.5"/><circle cx="335.69" cy="177.78" r="2.5"/><circle cx="336.62" cy="178.19" r="2.5"/><circle cx="337.54" cy="177.84" r="2.5"/><circle cx="338.47" cy="178.19" r="2.5"/><circle cx="339.39" cy="178.16" r="2.5"/><circle cx="340.31" cy="177.97" r="2.5"/><circle cx="341.24" cy="177.78" r="2.5"/><circle cx="342.16" cy="178.21" r="2.5"/><circle cx="343.09" cy="177.93" r="2.5"/><circle cx="344.01" cy="177.88" r="2.5"/><circle cx="344.94" cy="177.83" r="2.5"/><circle cx="345.86" cy="178.23" r="2.5"/><circle cx="346.78" cy="177.94" r="2.5"/><circle cx="347.71" cy="177.82" r="2.5"/><circle cx="348.63" cy="177.94" r="2.5"/><circle cx="349.56" cy="177.73" r="2.5"/><circle cx="350.48" cy="178.03" r="2.5"/><circle cx="351.41" cy="177.93" r="2.5"/><circle cx="352.33" cy="177.84" r="2.5"/><circle cx="353.25" cy="178.14" r="2.5"/><circle cx="354.18" cy="178.17" r="2.5"/><circle cx="355.10" cy="177.69" r="2.5"/><circle cx="356.03" cy="178.00" r="2.5"/><circle cx="356.95" cy="177.85" r="2.5"/><circle cx="357.88" cy="178.25" r="2.5"/><circle cx="358.80" cy="178.17" r="2.5"/><circle cx="359.72" cy="177.85" r="2.5"/><circle cx="360.65" cy="177.87" r="2.5"/><circle cx="361.57" cy="177.80" r="2.5"/><circle cx="362.50" cy="178.31" r="2.5"/><circle cx="363.42" cy="177.90" r="2.5"/><circle cx="364.35" cy="178.09" r="2.5"/><circle cx="365.27" cy="178.02" r="2.5"/><circle cx="366.19" cy="178.12" r="2.5"/><circle cx="367.12" cy="178.10" r="2.5"/><circle cx="368.04" cy="178.19" r="2.5"/><circle cx="368.97" cy="177.82" r="2.5"/><circle cx="369.89" cy="178.21" r="2.5"/><circle cx="370.82" cy="177.94" r="2.5"/><circle cx="371.74" cy="178.09" r="2.5"/><circle cx="372.66" cy="177.97" r="2.5"/><circle cx="373.59" cy="177.96" r="2.5"/><circle cx="374.51" cy="178.10" r="2.5"/><circle cx="375.44" cy="178.07" r="2.5"/><circle cx="376.36" cy="178.01" r="2.5"/><circle cx="377.28" cy="178.25" r="2.5"/><circle cx="378.21" cy="178.16" r="2.5"/><circle cx="379.13" cy="177.84" r="2.5"/><circle cx="380.06" cy="177.97" r="2.5"/><circle cx="380.98" cy="178.10" r="2.5"/><circle cx="381.91" cy="178.38" r="2.5"/><circle cx="382.83" cy="178.37" r="2.5"/><circle cx="383.75" cy="178.17" r="2.5"/><circle cx="384.68" cy="177.86" r="2.5"/><circle cx="385.60" cy="178.32" r="2.5"/><circle cx="386.53" cy="178.12" r="2.5"/><circle cx="387.45" cy="178.22" r="2.5"/><circle cx="388.38" cy="178.30" r="2.5"/><circle cx="389.30" cy="178.26" r="2.5"/><circle cx="390.22" cy="178.18" r="2.5"/><circle cx="391.15" cy="178.44" r="2.5"/><circle cx="392.07" cy="178.14" r="2.5"/><circle cx="393.00" cy="178.15" r="2.5"/><circle cx="393.92" cy="178.43" r="2.5"/><circle cx="394.85" cy="178.04" r="2.5"/><circle cx="395.77" cy="178.11" r="2.5"/><circle cx="396.69" cy="178.44" r="2.5"/><circle cx="397.62" cy="177.99" r="2.5"/><circle cx="398.54" cy="178.46" r="2.5"/><circle cx="399.47" cy="178.38" r="2.5"/><circle cx="400.39" cy="178.23" r="2.5"/><circle cx="401.32" cy="178.15" r="2.5"/><circle cx="402.24" cy="178.46" r="2.5"/><circle cx="403.16" cy="178.54" r="2.5"/><circle cx="404.09" cy="178.09" r="2.5"/><circle cx="405.01" cy="178.30" r="2.5"/><circle cx="405.94" cy="178.35" r="2.5"/><circle cx="406.86" cy="178.33" r="2.5"/><circle cx="407.79" cy="178.24" r="2.5"/><circle cx="408.71" cy="178.14" r="2.5"/><circle cx="409.63" cy="178.40" r="2.5"/><circle cx="410.56" cy="178.55" r="2.5"/><circle cx="411.48" cy="178.11" r="2.5"/><circle cx="412.41" cy="178.22" r="2.5"/><circle cx="413.33" cy="178.58" r="2.5"/><circle cx="414.25" cy="178.57" r="2.5"/><circle cx="415.18" cy="178.50" r="2.5"/><circle cx="416.10" cy="178.13" r="2.5"/><circle cx="417.03" cy="178.56" r="2.5"/><circle cx="417.95" cy="178.72" r="2.5"/><circle cx="418.88" cy="178.74" r="2.5"/><circle cx="419.80" cy="178.57" r="2.5"/><circle cx="420.72" cy="178.19" r="2.5"/><circle cx="421.65" cy="178.68" r="2.5"/><circle cx="422.57" cy="178.31" r="2.5"/><circle cx="423.50" cy="178.58" r="2.5"/><circle cx="424.42" cy="178.77" r="2.5"/><circle cx="425.35" cy="178.64" r="2.5"/><circle cx="426.27" cy="178.30" r="2.5"/><circle cx="427.19" cy="178.41" r="2.5"/><circle cx="428.12" cy="178.79" r="2.5"/><circle cx="429.04" cy="178.34" r="2.5"/><circle cx="429.97" cy="178.63" r="2.5"/><circle cx="430.89" cy="178.52" r="2.5"/><circle cx="431.82" cy="178.38" r="2.5"/><circle cx="432.74" cy="178.67" r="2.5"/><circle cx="433.66" cy="178.33" r="2.5"/><circle cx="434.59" cy="178.38" r="2.5"/><circle cx="435.51" cy="178.56" r="2.5"/><circle cx="436.44" cy="178.38" r="2.5"/><circle cx="437.36" cy="178.38" r="2.5"/><circle cx="438.29" cy="178.71" r="2.5"/><circle cx="439.21" cy="178.82" r="2.5"/><circle cx="440.13" cy="178.91" r="2.5"/><circle cx="441.06" cy="178.48" r="2.5"/><circle cx="441.98" cy="178.67" r="2.5"/><circle cx="442.91" cy="178.61" r="2.5"/><circle cx="443.83" cy="178.79" r="2.5"/><circle cx="444.76" cy="178.74" r="2.5"/><circle cx="445.68" cy="179.02" r="2.5"/><circle cx="446.60" cy="178.69" r="2.5"/><circle cx="447.53" cy="178.51" r="2.5"/><circle cx="448.45" cy="178.91" r="2.5"/><circle cx="449.38" cy="178.59" r="2.5"/><circle cx="450.30" cy="178.90" r="2.5"/><circle cx="451.22" cy="178.83" r="2.5"/><circle cx="452.15" cy="179.09" r="2.5"/><circle cx="453.07" cy="178.89" r="2.5"/><circle cx="454.00" cy="178.94" r="2.5"/><circle cx="454.92" cy="178.74" r="2.5"/><circle cx="455.85" cy="178.93" r="2.5"/><circle cx="456.77" cy="178.76" r="2.5"/><circle cx="457.69" cy="179.07" r="2.5"/><circle cx="458.62" cy="178.94" r="2.5"/><circle cx="459.54" cy="178.73" r="2.5"/><circle cx="460.47" cy="178.80" r="2.5"/><circle cx="461.39" cy="178.90" r="2.5"/><circle cx="462.32" cy="179.13" r="2.5"/><circle cx="463.24" cy="178.81" r="2.5"/><circle cx="464.16" cy="179.15" r="2.5"/><circle cx="465.09" cy="179.12" r="2.5"/><circle cx="466.01" cy="178.80" r="2.5"/><circle cx="466.94" cy="179.16" r="2.5"/><circle cx="467.86" cy="178.83" r="2.5"/><circle cx="468.79" cy="178.86" r="2.5"/><circle cx="469.71" cy="179.16" r="2.5"/><circle cx="470.63" cy="178.96" r="2.5"/><circle cx="471.56" cy="179.36" r="2.5"/><circle cx="472.48" cy="179.14" r="2.5"/><circle cx="473.41" cy="179.06" r="2.5"/><circle cx="474.33" cy="179.36" r="2.5"/><circle cx="475.26" cy="178.91" r="2.5"/><circle cx="476.18" cy="179.34" r="2.5"/><circle cx="477.10" cy="178.96" r="2.5"/><circle cx="478.03" cy="179.03" r="2.5"/><circle cx="478.95" cy="179.53" r="2.5"/><circle cx="479.88" cy="179.38" r="2.5"/><circle cx="480.80" cy="179.12" r="2.5"/><circle cx="481.73" cy="179.07" r="2.5"/><circle cx="482.65" cy="179.61" r="2.5"/><circle cx="483.57" cy="179.44" r="2.5"/><circle cx="484.50" cy="179.55" r="2.5"/><circle cx="485.42" cy="179.15" r="2.5"/><circle cx="486.35" cy="179.46" r="2.5"/><circle cx="487.27" cy="179.32" r="2.5"/><circle cx="488.19" cy="179.26" r="2.5"/><circle cx="489.12" cy="179.34" r="2.5"/><circle cx="490.04" cy="179.52" r="2.5"/><circle cx="490.97" cy="179.38" r="2.5"/><circle cx="491.89" cy="179.42" r="2.5"/><circle cx="492.82" cy="179.29" r="2.5"/><circle cx="493.74" cy="179.72" r="2.5"/><circle cx="494.66" cy="179.63" r="2.5"/><circle cx="495.59" cy="179.74" r="2.5"/><circle cx="496.51" cy="179.54" r="2.5"/><circle cx="497.44" cy="179.81" r="2.5"/><circle cx="498.36" cy="179.63" r="2.5"/><circle cx="499.29" cy="179.69" r="2.5"/><circle cx="500.21" cy="179.70" r="2.5"/><circle cx="501.13" cy="179.81" r="2.5"/><circle cx="502.06" cy="179.63" r="2.5"/><circle cx="502.98" cy="179.47" r="2.5"/><circle cx="503.91" cy="179.45" r="2.5"/><circle cx="504.83" cy="179.57" r="2.5"/><circle cx="505.76" cy="179.49" r="2.5"/><circle cx="506.68" cy="180.02" r="2.5"/><circle cx="507.60" cy="179.79" r="2.5"/><circle cx="508.53" cy="179.98" r="2.5"/><circle cx="509.45" cy="179.54" r="2.5"/><circle cx="510.38" cy="179.84" r="2.5"/><circle cx="511.30" cy="180.12" r="2.5"/><circle cx="512.23" cy="179.97" r="2.5"/><circle cx="513.15" cy="179.88" r="2.5"/><circle cx="514.07" cy="179.92" r="2.5"/><circle cx="515.00" cy="179.72" r="2.5"/><circle cx="515.92" cy="179.78" r="2.5"/><circle cx="516.85" cy="179.80" r="2.5"/><circle cx="517.77" cy="179.95" r="2.5"/><circle cx="518.70" cy="179.98" r="2.5"/><circle cx="519.62" cy="180.30" r="2.5"/><circle cx="520.54" cy="179.88" r="2.5"/><circle cx="521.47" cy="179.96" r="2.5"/><circle cx="522.39" cy="180.00" r="2.5"/><circle cx="523.32" cy="179.95" r="2.5"/><circle cx="524.24" cy="180.05" r="2.5"/><circle cx="525.16" cy="180.04" r="2.5"/><circle cx="526.09" cy="180.21" r="2.5"/><circle cx="527.01" cy="179.96" r="2.5"/><circle cx="527.94" cy="180.52" r="2.5"/><circle cx="528.86" cy="180.21" r="2.5"/><circle cx="529.79" cy="180.57" r="2.5"/><circle cx="530.71" cy="180.44" r="2.5"/><circle cx="531.63" cy="180.46" r="2.5"/><circle cx="532.56" cy="180.36" r="2.5"/><circle cx="533.48" cy="180.67" r="2.5"/><circle cx="534.41" cy="180.19" r="2.5"/><circle cx="535.33" cy="180.55" r="2.5"/><circle cx="536.26" cy="180.34" r="2.5"/><circle cx="537.18" cy="180.60" r="2.5"/><circle cx="538.10" cy="180.65" r="2.5"/><circle cx="539.03" cy="180.34" r="2.5"/><circle cx="539.95" cy="180.38" r="2.5"/><circle cx="540.88" cy="180.30" r="2.5"/><circle cx="541.80" cy="180.45" r="2.5"/><circle cx="542.73" cy="180.38" r="2.5"/><circle cx="543.65" cy="180.60" r="2.5"/><circle cx="544.57" cy="180.97" r="2.5"/><circle cx="545.50" cy="180.63" r="2.5"/><circle cx="546.42" cy="180.62" r="2.5"/><circle cx="547.35" cy="180.74" r="2.5"/><circle cx="548.27" cy="180.65" r="2.5"/><circle cx="549.20" cy="180.95" r="2.5"/><circle cx="550.12" cy="180.97" r="2.5"/><circle cx="551.04" cy="180.66" r="2.5"/><circle cx="551.97" cy="180.73" r="2.5"/><circle cx="552.89" cy="181.02" r="2.5"/><circle cx="553.82" cy="181.20" r="2.5"/><circle cx="554.74" cy="181.05" r="2.5"/><circle cx="555.67" cy="180.95" r="2.5"/><circle cx="556.59" cy="181.30" r="2.5"/><circle cx="557.51" cy="180.75" r="2.5"/><circle cx="558.44" cy="180.81" r="2.5"/><circle cx="559.36" cy="181.26" r="2.5"/><circle cx="560.29" cy="181.07" r="2.5"/><circle cx="561.21" cy="180.88" r="2.5"/><circle cx="562.13" cy="181.21" r="2.5"/><circle cx="563.06" cy="181.50" r="2.5"/><circle cx="563.98" cy="181.24" r="2.5"/><circle cx="564.91" cy="181.17" r="2.5"/><circle cx="565.83" cy="181.04" r="2.5"/><circle cx="566.76" cy="181.06" r="2.5"/><circle cx="567.68" cy="181.58" r="2.5"/><circle cx="568.60" cy="181.37" r="2.5"/><circle cx="569.53" cy="181.66" r="2.5"/><circle cx="570.45" cy="181.16" r="2.5"/><circle cx="571.38" cy="181.30" r="2.5"/><circle cx="572.30" cy="181.22" r="2.5"/><circle cx="573.23" cy="181.45" r="2.5"/><circle cx="574.15" cy="181.28" r="2.5"/><circle cx="575.07" cy="181.43" r="2.5"/><circle cx="576.00" cy="181.55" r="2.5"/><circle cx="576.92" cy="181.52" r="2.5"/><circle cx="577.85" cy="181.39" r="2.5"/><circle cx="578.77" cy="181.42" r="2.5"/><circle cx="579.70" cy="182.01" r="2.5"/><circle cx="580.62" cy="181.56" r="2.5"/><circle cx="581.54" cy="181.79" r="2.5"/><circle cx="582.47" cy="181.76" r="2.5"/><circle cx="583.39" cy="181.86" r="2.5"/><circle cx="584.32" cy="181.63" r="2.5"/><circle cx="585.24" cy="181.80" r="2.5"/><circle cx="586.17" cy="181.70" r="2.5"/><circle cx="587.09" cy="181.99" r="2.5"/><circle cx="588.01" cy="182.25" r="2.5"/><circle cx="588.94" cy="182.09" r="2.5"/><circle cx="589.86" cy="182.28" r="2.5"/><circle cx="590.79" cy="181.92" r="2.5"/><circle cx="591.71" cy="181.84" r="2.5"/><circle cx="592.64" cy="182.18" r="2.5"/><circle cx="593.56" cy="182.18" r="2.5"/><circle cx="594.48" cy="182.27" r="2.5"/><circle cx="595.41" cy="182.18" r="2.5"/><circle cx="596.33" cy="182.37" r="2.5"/><circle cx="597.26" cy="182.46" r="2.5"/><circle cx="598.18" cy="182.60" r="2.5"/><circle cx="599.10" cy="182.27" r="2.5"/><circle cx="600.03" cy="182.39" r="2.5"/><circle cx="600.95" cy="182.65" r="2.5"/><circle cx="601.88" cy="182.32" r="2.5"/><circle cx="602.80" cy="182.29" r="2.5"/><circle cx="603.73" cy="182.45" r="2.5"/><circle cx="604.65" cy="182.35" r="2.5"/><circle cx="605.57" cy="182.79" r="2.5"/><circle cx="606.50" cy="182.85" r="2.5"/><circle cx="607.42" cy="182.58" r="2.5"/><circle cx="608.35" cy="182.51" r="2.5"/><circle cx="609.27" cy="182.52" r="2.5"/></g>
<g fill="#3169a5"><circle cx="62.5" cy="286.9" r="2.5"/><circle cx="63.5" cy="276.9" r="2.5"/><circle cx="64.7" cy="263.8" r="2.5"/><circle cx="65.8" cy="253.2" r="2.5"/><circle cx="66.9" cy="245" r="2.5"/><circle cx="68.66" cy="237.2" r="2.5"/><circle cx="69.8" cy="231.2" r="2.5"/><circle cx="71.2" cy="225.6" r="2.5"/><circle cx="71.99" cy="223.85" r="2.5"/><circle cx="73.10" cy="220.82" r="2.5"/><circle cx="74.20" cy="218.18" r="2.5"/><circle cx="75.13" cy="216.24" r="2.5"/><circle cx="76.05" cy="214.49" r="2.5"/><circle cx="76.98" cy="212.92" r="2.5"/><circle cx="77.90" cy="211.49" r="2.5"/><circle cx="78.83" cy="210.19" r="2.5"/><circle cx="79.75" cy="209.01" r="2.5"/><circle cx="80.67" cy="207.92" r="2.5"/><circle cx="81.60" cy="206.93" r="2.5"/><circle cx="82.52" cy="206.02" r="2.5"/><circle cx="83.45" cy="205.18" r="2.5"/><circle cx="84.37" cy="204.41" r="2.5"/><circle cx="85.30" cy="203.69" r="2.5"/><circle cx="86.22" cy="203.03" r="2.5"/><circle cx="87.14" cy="202.41" r="2.5"/><circle cx="88.07" cy="201.84" r="2.5"/><circle cx="88.99" cy="201.30" r="2.5"/><circle cx="89.92" cy="200.80" r="2.5"/><circle cx="90.84" cy="200.34" r="2.5"/><circle cx="91.77" cy="199.91" r="2.5"/><circle cx="92.69" cy="199.50" r="2.5"/><circle cx="93.61" cy="199.12" r="2.5"/><circle cx="94.54" cy="198.76" r="2.5"/><circle cx="95.46" cy="198.43" r="2.5"/><circle cx="96.39" cy="198.12" r="2.5"/><circle cx="97.31" cy="197.82" r="2.5"/><circle cx="98.24" cy="197.55" r="2.5"/><circle cx="99.16" cy="197.29" r="2.5"/><circle cx="100.08" cy="196.96" r="2.5"/><circle cx="101.01" cy="196.64" r="2.5"/><circle cx="101.93" cy="196.67" r="2.5"/><circle cx="102.86" cy="196.18" r="2.5"/><circle cx="103.78" cy="196.22" r="2.5"/><circle cx="104.70" cy="195.96" r="2.5"/><circle cx="105.63" cy="195.63" r="2.5"/><circle cx="106.55" cy="195.70" r="2.5"/><circle cx="107.48" cy="195.31" r="2.5"/><circle cx="108.40" cy="195.37" r="2.5"/><circle cx="109.33" cy="195.05" r="2.5"/><circle cx="110.25" cy="194.93" r="2.5"/><circle cx="111.17" cy="194.98" r="2.5"/><circle cx="112.10" cy="195.06" r="2.5"/><circle cx="113.02" cy="194.60" r="2.5"/><circle cx="113.95" cy="194.55" r="2.5"/><circle cx="114.87" cy="194.66" r="2.5"/><circle cx="115.80" cy="194.72" r="2.5"/><circle cx="116.72" cy="194.45" r="2.5"/><circle cx="117.64" cy="194.28" r="2.5"/><circle cx="118.57" cy="194.49" r="2.5"/><circle cx="119.49" cy="193.95" r="2.5"/><circle cx="120.42" cy="194.28" r="2.5"/><circle cx="121.34" cy="193.93" r="2.5"/><circle cx="122.27" cy="193.79" r="2.5"/><circle cx="123.19" cy="193.71" r="2.5"/><circle cx="124.11" cy="193.75" r="2.5"/><circle cx="125.04" cy="193.95" r="2.5"/><circle cx="125.96" cy="193.58" r="2.5"/><circle cx="126.89" cy="193.72" r="2.5"/><circle cx="127.81" cy="193.70" r="2.5"/><circle cx="128.74" cy="193.52" r="2.5"/><circle cx="129.66" cy="193.56" r="2.5"/><circle cx="130.58" cy="193.28" r="2.5"/><circle cx="131.51" cy="193.23" r="2.5"/><circle cx="132.43" cy="193.27" r="2.5"/><circle cx="133.36" cy="193.46" r="2.5"/><circle cx="134.28" cy="193.30" r="2.5"/><circle cx="135.21" cy="193.21" r="2.5"/><circle cx="136.13" cy="193.31" r="2.5"/><circle cx="137.05" cy="193.21" r="2.5"/><circle cx="137.98" cy="193.10" r="2.5"/><circle cx="138.90" cy="193.31" r="2.5"/><circle cx="139.83" cy="193.24" r="2.5"/><circle cx="140.75" cy="192.98" r="2.5"/><circle cx="141.67" cy="193.11" r="2.5"/><circle cx="142.60" cy="193.06" r="2.5"/><circle cx="143.52" cy="193.21" r="2.5"/><circle cx="144.45" cy="193.11" r="2.5"/><circle cx="145.37" cy="192.86" r="2.5"/><circle cx="146.30" cy="193.19" r="2.5"/><circle cx="147.22" cy="192.73" r="2.5"/><circle cx="148.14" cy="192.86" r="2.5"/><circle cx="149.07" cy="193.00" r="2.5"/><circle cx="149.99" cy="192.68" r="2.5"/><circle cx="150.92" cy="192.82" r="2.5"/><circle cx="151.84" cy="192.58" r="2.5"/><circle cx="152.77" cy="192.87" r="2.5"/><circle cx="153.69" cy="192.90" r="2.5"/><circle cx="154.61" cy="192.78" r="2.5"/><circle cx="155.54" cy="192.91" r="2.5"/><circle cx="156.46" cy="192.61" r="2.5"/><circle cx="157.39" cy="192.78" r="2.5"/><circle cx="158.31" cy="192.71" r="2.5"/><circle cx="159.24" cy="192.69" r="2.5"/><circle cx="160.16" cy="192.61" r="2.5"/><circle cx="161.08" cy="192.78" r="2.5"/><circle cx="162.01" cy="192.81" r="2.5"/><circle cx="162.93" cy="192.56" r="2.5"/><circle cx="163.86" cy="192.64" r="2.5"/><circle cx="164.78" cy="192.32" r="2.5"/><circle cx="165.71" cy="192.62" r="2.5"/><circle cx="166.63" cy="192.58" r="2.5"/><circle cx="167.55" cy="192.74" r="2.5"/><circle cx="168.48" cy="192.63" r="2.5"/><circle cx="169.40" cy="192.35" r="2.5"/><circle cx="170.33" cy="192.38" r="2.5"/><circle cx="171.25" cy="192.51" r="2.5"/><circle cx="172.18" cy="192.17" r="2.5"/><circle cx="173.10" cy="192.38" r="2.5"/><circle cx="174.02" cy="192.21" r="2.5"/><circle cx="174.95" cy="192.17" r="2.5"/><circle cx="175.87" cy="192.13" r="2.5"/><circle cx="176.80" cy="192.47" r="2.5"/><circle cx="177.72" cy="192.14" r="2.5"/><circle cx="178.64" cy="192.18" r="2.5"/><circle cx="179.57" cy="192.24" r="2.5"/><circle cx="180.49" cy="192.46" r="2.5"/><circle cx="181.42" cy="192.05" r="2.5"/><circle cx="182.34" cy="192.22" r="2.5"/><circle cx="183.27" cy="192.26" r="2.5"/><circle cx="184.19" cy="192.41" r="2.5"/><circle cx="185.11" cy="192.37" r="2.5"/><circle cx="186.04" cy="192.38" r="2.5"/><circle cx="186.96" cy="192.07" r="2.5"/><circle cx="187.89" cy="192.13" r="2.5"/><circle cx="188.81" cy="192.09" r="2.5"/><circle cx="189.74" cy="192.34" r="2.5"/><circle cx="190.66" cy="192.36" r="2.5"/><circle cx="191.58" cy="191.94" r="2.5"/><circle cx="192.51" cy="191.94" r="2.5"/><circle cx="193.43" cy="191.96" r="2.5"/><circle cx="194.36" cy="191.95" r="2.5"/><circle cx="195.28" cy="192.06" r="2.5"/><circle cx="196.21" cy="192.10" r="2.5"/><circle cx="197.13" cy="191.93" r="2.5"/><circle cx="198.05" cy="191.78" r="2.5"/><circle cx="198.98" cy="191.98" r="2.5"/><circle cx="199.90" cy="191.94" r="2.5"/><circle cx="200.83" cy="192.03" r="2.5"/><circle cx="201.75" cy="192.21" r="2.5"/><circle cx="202.68" cy="192.07" r="2.5"/><circle cx="203.60" cy="191.97" r="2.5"/><circle cx="204.52" cy="192.01" r="2.5"/><circle cx="205.45" cy="192.03" r="2.5"/><circle cx="206.37" cy="191.71" r="2.5"/><circle cx="207.30" cy="192.12" r="2.5"/><circle cx="208.22" cy="192.05" r="2.5"/><circle cx="209.15" cy="192.08" r="2.5"/><circle cx="210.07" cy="192.03" r="2.5"/><circle cx="210.99" cy="191.82" r="2.5"/><circle cx="211.92" cy="191.81" r="2.5"/><circle cx="212.84" cy="191.65" r="2.5"/><circle cx="213.77" cy="191.91" r="2.5"/><circle cx="214.69" cy="191.61" r="2.5"/><circle cx="215.61" cy="191.61" r="2.5"/><circle cx="216.54" cy="191.67" r="2.5"/><circle cx="217.46" cy="191.63" r="2.5"/><circle cx="218.39" cy="191.71" r="2.5"/><circle cx="219.31" cy="191.56" r="2.5"/><circle cx="220.24" cy="191.52" r="2.5"/><circle cx="221.16" cy="191.59" r="2.5"/><circle cx="222.08" cy="191.55" r="2.5"/><circle cx="223.01" cy="191.67" r="2.5"/><circle cx="223.93" cy="191.49" r="2.5"/><circle cx="224.86" cy="191.91" r="2.5"/><circle cx="225.78" cy="191.77" r="2.5"/><circle cx="226.71" cy="191.53" r="2.5"/><circle cx="227.63" cy="191.57" r="2.5"/><circle cx="228.55" cy="191.61" r="2.5"/><circle cx="229.48" cy="191.61" r="2.5"/><circle cx="230.40" cy="191.48" r="2.5"/><circle cx="231.33" cy="191.83" r="2.5"/><circle cx="232.25" cy="191.89" r="2.5"/><circle cx="233.18" cy="191.62" r="2.5"/><circle cx="234.10" cy="191.62" r="2.5"/><circle cx="235.02" cy="191.41" r="2.5"/><circle cx="235.95" cy="191.41" r="2.5"/><circle cx="236.87" cy="191.52" r="2.5"/><circle cx="237.80" cy="191.48" r="2.5"/><circle cx="238.72" cy="191.75" r="2.5"/><circle cx="239.65" cy="191.41" r="2.5"/><circle cx="240.57" cy="191.33" r="2.5"/><circle cx="241.49" cy="191.79" r="2.5"/><circle cx="242.42" cy="191.57" r="2.5"/><circle cx="243.34" cy="191.37" r="2.5"/><circle cx="244.27" cy="191.56" r="2.5"/><circle cx="245.19" cy="191.29" r="2.5"/><circle cx="246.12" cy="191.53" r="2.5"/><circle cx="247.04" cy="191.75" r="2.5"/><circle cx="247.96" cy="191.69" r="2.5"/><circle cx="248.89" cy="191.59" r="2.5"/><circle cx="249.81" cy="191.37" r="2.5"/><circle cx="250.74" cy="191.41" r="2.5"/><circle cx="251.66" cy="191.31" r="2.5"/><circle cx="252.58" cy="191.60" r="2.5"/><circle cx="253.51" cy="191.48" r="2.5"/><circle cx="254.43" cy="191.59" r="2.5"/><circle cx="255.36" cy="191.36" r="2.5"/><circle cx="256.28" cy="191.30" r="2.5"/><circle cx="257.21" cy="191.59" r="2.5"/><circle cx="258.13" cy="191.66" r="2.5"/><circle cx="259.05" cy="191.59" r="2.5"/><circle cx="259.98" cy="191.56" r="2.5"/><circle cx="260.90" cy="191.56" r="2.5"/><circle cx="261.83" cy="191.51" r="2.5"/><circle cx="262.75" cy="191.25" r="2.5"/><circle cx="263.68" cy="191.39" r="2.5"/><circle cx="264.60" cy="191.30" r="2.5"/><circle cx="265.52" cy="191.13" r="2.5"/><circle cx="266.45" cy="191.12" r="2.5"/><circle cx="267.37" cy="191.24" r="2.5"/><circle cx="268.30" cy="191.23" r="2.5"/><circle cx="269.22" cy="191.44" r="2.5"/><circle cx="270.15" cy="191.56" r="2.5"/><circle cx="271.07" cy="191.30" r="2.5"/><circle cx="271.99" cy="191.54" r="2.5"/><circle cx="272.92" cy="191.56" r="2.5"/><circle cx="273.84" cy="191.54" r="2.5"/><circle cx="274.77" cy="191.24" r="2.5"/><circle cx="275.69" cy="191.16" r="2.5"/><circle cx="276.62" cy="191.16" r="2.5"/><circle cx="277.54" cy="191.13" r="2.5"/><circle cx="278.46" cy="191.13" r="2.5"/><circle cx="279.39" cy="191.34" r="2.5"/><circle cx="280.31" cy="191.47" r="2.5"/><circle cx="281.24" cy="191.43" r="2.5"/><circle cx="282.16" cy="191.25" r="2.5"/><circle cx="283.09" cy="191.33" r="2.5"/><circle cx="284.01" cy="191.40" r="2.5"/><circle cx="284.93" cy="191.03" r="2.5"/><circle cx="285.86" cy="191.32" r="2.5"/><circle cx="286.78" cy="191.43" r="2.5"/><circle cx="287.71" cy="191.37" r="2.5"/><circle cx="288.63" cy="191.34" r="2.5"/><circle cx="289.55" cy="191.20" r="2.5"/><circle cx="290.48" cy="191.05" r="2.5"/><circle cx="291.40" cy="191.35" r="2.5"/><circle cx="292.33" cy="191.11" r="2.5"/><circle cx="293.25" cy="191.34" r="2.5"/><circle cx="294.18" cy="191.42" r="2.5"/><circle cx="295.10" cy="191.13" r="2.5"/><circle cx="296.02" cy="191.13" r="2.5"/><circle cx="296.95" cy="191.40" r="2.5"/><circle cx="297.87" cy="191.28" r="2.5"/><circle cx="298.80" cy="191.00" r="2.5"/><circle cx="299.72" cy="190.97" r="2.5"/><circle cx="300.65" cy="190.98" r="2.5"/><circle cx="301.57" cy="191.35" r="2.5"/><circle cx="302.49" cy="191.30" r="2.5"/><circle cx="303.42" cy="190.97" r="2.5"/><circle cx="304.34" cy="191.30" r="2.5"/><circle cx="305.27" cy="191.37" r="2.5"/><circle cx="306.19" cy="191.21" r="2.5"/><circle cx="307.12" cy="191.05" r="2.5"/><circle cx="308.04" cy="191.15" r="2.5"/><circle cx="308.96" cy="190.93" r="2.5"/><circle cx="309.89" cy="190.87" r="2.5"/><circle cx="310.81" cy="191.34" r="2.5"/><circle cx="311.74" cy="191.18" r="2.5"/><circle cx="312.66" cy="191.11" r="2.5"/><circle cx="313.59" cy="191.31" r="2.5"/><circle cx="314.51" cy="191.06" r="2.5"/><circle cx="315.43" cy="191.27" r="2.5"/><circle cx="316.36" cy="191.25" r="2.5"/><circle cx="317.28" cy="190.94" r="2.5"/><circle cx="318.21" cy="190.95" r="2.5"/><circle cx="319.13" cy="190.97" r="2.5"/><circle cx="320.06" cy="190.94" r="2.5"/><circle cx="320.98" cy="191.11" r="2.5"/><circle cx="321.90" cy="190.94" r="2.5"/><circle cx="322.83" cy="191.02" r="2.5"/><circle cx="323.75" cy="190.87" r="2.5"/><circle cx="324.68" cy="191.26" r="2.5"/><circle cx="325.60" cy="190.98" r="2.5"/><circle cx="326.52" cy="191.03" r="2.5"/><circle cx="327.45" cy="191.09" r="2.5"/><circle cx="328.37" cy="191.24" r="2.5"/><circle cx="329.30" cy="191.00" r="2.5"/><circle cx="330.22" cy="191.24" r="2.5"/><circle cx="331.15" cy="191.03" r="2.5"/><circle cx="332.07" cy="191.04" r="2.5"/><circle cx="332.99" cy="191.04" r="2.5"/><circle cx="333.92" cy="190.78" r="2.5"/><circle cx="334.84" cy="190.99" r="2.5"/><circle cx="335.77" cy="190.86" r="2.5"/><circle cx="336.69" cy="190.77" r="2.5"/><circle cx="337.62" cy="191.16" r="2.5"/><circle cx="338.54" cy="190.84" r="2.5"/><circle cx="339.46" cy="190.99" r="2.5"/><circle cx="340.39" cy="191.12" r="2.5"/><circle cx="341.31" cy="191.03" r="2.5"/><circle cx="342.24" cy="190.91" r="2.5"/><circle cx="343.16" cy="191.00" r="2.5"/><circle cx="344.09" cy="191.02" r="2.5"/><circle cx="345.01" cy="191.13" r="2.5"/><circle cx="345.93" cy="190.79" r="2.5"/><circle cx="346.86" cy="191.02" r="2.5"/><circle cx="347.78" cy="190.86" r="2.5"/><circle cx="348.71" cy="190.87" r="2.5"/><circle cx="349.63" cy="191.11" r="2.5"/><circle cx="350.56" cy="190.98" r="2.5"/><circle cx="351.48" cy="191.00" r="2.5"/><circle cx="352.40" cy="191.10" r="2.5"/><circle cx="353.33" cy="191.18" r="2.5"/><circle cx="354.25" cy="190.94" r="2.5"/><circle cx="355.18" cy="191.02" r="2.5"/><circle cx="356.10" cy="190.97" r="2.5"/><circle cx="357.03" cy="190.97" r="2.5"/><circle cx="357.95" cy="191.06" r="2.5"/><circle cx="358.87" cy="190.93" r="2.5"/><circle cx="359.80" cy="190.97" r="2.5"/><circle cx="360.72" cy="190.94" r="2.5"/><circle cx="361.65" cy="191.17" r="2.5"/><circle cx="362.57" cy="191.05" r="2.5"/><circle cx="363.49" cy="191.14" r="2.5"/><circle cx="364.42" cy="191.17" r="2.5"/><circle cx="365.34" cy="190.82" r="2.5"/><circle cx="366.27" cy="190.97" r="2.5"/><circle cx="367.19" cy="191.16" r="2.5"/><circle cx="368.12" cy="191.11" r="2.5"/><circle cx="369.04" cy="190.76" r="2.5"/><circle cx="369.96" cy="190.75" r="2.5"/><circle cx="370.89" cy="190.91" r="2.5"/><circle cx="371.81" cy="190.72" r="2.5"/><circle cx="372.74" cy="190.80" r="2.5"/><circle cx="373.66" cy="190.72" r="2.5"/><circle cx="374.59" cy="191.01" r="2.5"/><circle cx="375.51" cy="191.07" r="2.5"/><circle cx="376.43" cy="191.12" r="2.5"/><circle cx="377.36" cy="190.75" r="2.5"/><circle cx="378.28" cy="191.03" r="2.5"/><circle cx="379.21" cy="191.00" r="2.5"/><circle cx="380.13" cy="190.74" r="2.5"/><circle cx="381.06" cy="191.11" r="2.5"/><circle cx="381.98" cy="191.15" r="2.5"/><circle cx="382.90" cy="190.78" r="2.5"/><circle cx="383.83" cy="191.14" r="2.5"/><circle cx="384.75" cy="190.86" r="2.5"/><circle cx="385.68" cy="190.91" r="2.5"/><circle cx="386.60" cy="191.16" r="2.5"/><circle cx="387.53" cy="191.08" r="2.5"/><circle cx="388.45" cy="190.74" r="2.5"/><circle cx="389.37" cy="190.88" r="2.5"/><circle cx="390.30" cy="190.92" r="2.5"/><circle cx="391.22" cy="190.83" r="2.5"/><circle cx="392.15" cy="190.76" r="2.5"/><circle cx="393.07" cy="190.82" r="2.5"/><circle cx="394.00" cy="191.02" r="2.5"/><circle cx="394.92" cy="190.66" r="2.5"/><circle cx="395.84" cy="190.93" r="2.5"/><circle cx="396.77" cy="190.87" r="2.5"/><circle cx="397.69" cy="190.66" r="2.5"/><circle cx="398.62" cy="190.82" r="2.5"/><circle cx="399.54" cy="190.96" r="2.5"/><circle cx="400.46" cy="190.91" r="2.5"/><circle cx="401.39" cy="190.68" r="2.5"/><circle cx="402.31" cy="191.14" r="2.5"/><circle cx="403.24" cy="191.04" r="2.5"/><circle cx="404.16" cy="191.13" r="2.5"/><circle cx="405.09" cy="190.70" r="2.5"/><circle cx="406.01" cy="190.78" r="2.5"/><circle cx="406.93" cy="190.67" r="2.5"/><circle cx="407.86" cy="191.03" r="2.5"/><circle cx="408.78" cy="190.78" r="2.5"/><circle cx="409.71" cy="190.71" r="2.5"/><circle cx="410.63" cy="190.85" r="2.5"/><circle cx="411.56" cy="191.10" r="2.5"/><circle cx="412.48" cy="191.05" r="2.5"/><circle cx="413.40" cy="190.77" r="2.5"/><circle cx="414.33" cy="190.72" r="2.5"/><circle cx="415.25" cy="191.10" r="2.5"/><circle cx="416.18" cy="190.93" r="2.5"/><circle cx="417.10" cy="190.99" r="2.5"/><circle cx="418.03" cy="190.69" r="2.5"/><circle cx="418.95" cy="190.67" r="2.5"/><circle cx="419.87" cy="190.98" r="2.5"/><circle cx="420.80" cy="190.85" r="2.5"/><circle cx="421.72" cy="190.68" r="2.5"/><circle cx="422.65" cy="191.11" r="2.5"/><circle cx="423.57" cy="190.96" r="2.5"/><circle cx="424.50" cy="191.04" r="2.5"/><circle cx="425.42" cy="190.68" r="2.5"/><circle cx="426.34" cy="191.07" r="2.5"/><circle cx="427.27" cy="190.67" r="2.5"/><circle cx="428.19" cy="191.07" r="2.5"/><circle cx="429.12" cy="190.86" r="2.5"/><circle cx="430.04" cy="190.81" r="2.5"/><circle cx="430.97" cy="190.91" r="2.5"/><circle cx="431.89" cy="191.10" r="2.5"/><circle cx="432.81" cy="190.77" r="2.5"/><circle cx="433.74" cy="190.70" r="2.5"/><circle cx="434.66" cy="190.90" r="2.5"/><circle cx="435.59" cy="190.76" r="2.5"/><circle cx="436.51" cy="190.69" r="2.5"/><circle cx="437.43" cy="190.72" r="2.5"/><circle cx="438.36" cy="190.66" r="2.5"/><circle cx="439.28" cy="190.74" r="2.5"/><circle cx="440.21" cy="190.79" r="2.5"/><circle cx="441.13" cy="190.79" r="2.5"/><circle cx="442.06" cy="191.02" r="2.5"/><circle cx="442.98" cy="190.78" r="2.5"/><circle cx="443.90" cy="190.89" r="2.5"/><circle cx="444.83" cy="190.73" r="2.5"/><circle cx="445.75" cy="190.81" r="2.5"/><circle cx="446.68" cy="190.65" r="2.5"/><circle cx="447.60" cy="190.76" r="2.5"/><circle cx="448.53" cy="190.64" r="2.5"/><circle cx="449.45" cy="191.00" r="2.5"/><circle cx="450.37" cy="190.91" r="2.5"/><circle cx="451.30" cy="190.73" r="2.5"/><circle cx="452.22" cy="190.87" r="2.5"/><circle cx="453.15" cy="191.10" r="2.5"/><circle cx="454.07" cy="190.69" r="2.5"/><circle cx="455.00" cy="191.05" r="2.5"/><circle cx="455.92" cy="190.85" r="2.5"/><circle cx="456.84" cy="190.89" r="2.5"/><circle cx="457.77" cy="191.06" r="2.5"/><circle cx="458.69" cy="190.83" r="2.5"/><circle cx="459.62" cy="190.89" r="2.5"/><circle cx="460.54" cy="190.98" r="2.5"/><circle cx="461.47" cy="191.13" r="2.5"/><circle cx="462.39" cy="190.81" r="2.5"/><circle cx="463.31" cy="191.05" r="2.5"/><circle cx="464.24" cy="190.99" r="2.5"/><circle cx="465.16" cy="190.96" r="2.5"/><circle cx="466.09" cy="190.84" r="2.5"/><circle cx="467.01" cy="190.81" r="2.5"/><circle cx="467.94" cy="190.67" r="2.5"/><circle cx="468.86" cy="190.70" r="2.5"/><circle cx="469.78" cy="190.67" r="2.5"/><circle cx="470.71" cy="191.01" r="2.5"/><circle cx="471.63" cy="190.77" r="2.5"/><circle cx="472.56" cy="190.72" r="2.5"/><circle cx="473.48" cy="190.68" r="2.5"/><circle cx="474.40" cy="191.06" r="2.5"/><circle cx="475.33" cy="191.08" r="2.5"/><circle cx="476.25" cy="190.98" r="2.5"/><circle cx="477.18" cy="190.78" r="2.5"/><circle cx="478.10" cy="190.76" r="2.5"/><circle cx="479.03" cy="190.79" r="2.5"/><circle cx="479.95" cy="190.87" r="2.5"/><circle cx="480.87" cy="190.72" r="2.5"/><circle cx="481.80" cy="190.86" r="2.5"/><circle cx="482.72" cy="190.77" r="2.5"/><circle cx="483.65" cy="191.12" r="2.5"/><circle cx="484.57" cy="191.13" r="2.5"/><circle cx="485.50" cy="190.92" r="2.5"/><circle cx="486.42" cy="190.76" r="2.5"/><circle cx="487.34" cy="191.13" r="2.5"/><circle cx="488.27" cy="190.80" r="2.5"/><circle cx="489.19" cy="190.82" r="2.5"/><circle cx="490.12" cy="190.64" r="2.5"/><circle cx="491.04" cy="190.83" r="2.5"/><circle cx="491.97" cy="190.88" r="2.5"/><circle cx="492.89" cy="190.89" r="2.5"/><circle cx="493.81" cy="190.74" r="2.5"/><circle cx="494.74" cy="190.90" r="2.5"/><circle cx="495.66" cy="190.65" r="2.5"/><circle cx="496.59" cy="190.78" r="2.5"/><circle cx="497.51" cy="190.69" r="2.5"/><circle cx="498.44" cy="190.84" r="2.5"/><circle cx="499.36" cy="190.66" r="2.5"/><circle cx="500.28" cy="190.66" r="2.5"/><circle cx="501.21" cy="190.80" r="2.5"/><circle cx="502.13" cy="190.76" r="2.5"/><circle cx="503.06" cy="190.94" r="2.5"/><circle cx="503.98" cy="190.91" r="2.5"/><circle cx="504.91" cy="191.02" r="2.5"/><circle cx="505.83" cy="190.97" r="2.5"/><circle cx="506.75" cy="191.00" r="2.5"/><circle cx="507.68" cy="191.08" r="2.5"/><circle cx="508.60" cy="190.84" r="2.5"/><circle cx="509.53" cy="190.81" r="2.5"/><circle cx="510.45" cy="191.14" r="2.5"/><circle cx="511.37" cy="190.72" r="2.5"/><circle cx="512.30" cy="191.01" r="2.5"/><circle cx="513.22" cy="190.97" r="2.5"/><circle cx="514.15" cy="190.67" r="2.5"/><circle cx="515.07" cy="191.06" r="2.5"/><circle cx="516.00" cy="191.09" r="2.5"/><circle cx="516.92" cy="190.96" r="2.5"/><circle cx="517.84" cy="191.01" r="2.5"/><circle cx="518.77" cy="191.05" r="2.5"/><circle cx="519.69" cy="190.71" r="2.5"/><circle cx="520.62" cy="190.91" r="2.5"/><circle cx="521.54" cy="190.90" r="2.5"/><circle cx="522.47" cy="191.06" r="2.5"/><circle cx="523.39" cy="191.05" r="2.5"/><circle cx="524.31" cy="191.06" r="2.5"/><circle cx="525.24" cy="190.93" r="2.5"/><circle cx="526.16" cy="191.09" r="2.5"/><circle cx="527.09" cy="190.98" r="2.5"/><circle cx="528.01" cy="190.99" r="2.5"/><circle cx="528.94" cy="190.76" r="2.5"/><circle cx="529.86" cy="190.66" r="2.5"/><circle cx="530.78" cy="190.71" r="2.5"/><circle cx="531.71" cy="190.82" r="2.5"/><circle cx="532.63" cy="190.69" r="2.5"/><circle cx="533.56" cy="191.06" r="2.5"/><circle cx="534.48" cy="190.92" r="2.5"/><circle cx="535.41" cy="190.95" r="2.5"/><circle cx="536.33" cy="190.95" r="2.5"/><circle cx="537.25" cy="190.98" r="2.5"/><circle cx="538.18" cy="190.88" r="2.5"/><circle cx="539.10" cy="190.64" r="2.5"/><circle cx="540.03" cy="191.04" r="2.5"/><circle cx="540.95" cy="191.01" r="2.5"/><circle cx="541.88" cy="190.89" r="2.5"/><circle cx="542.80" cy="190.90" r="2.5"/><circle cx="543.72" cy="190.97" r="2.5"/><circle cx="544.65" cy="190.67" r="2.5"/><circle cx="545.57" cy="191.00" r="2.5"/><circle cx="546.50" cy="190.76" r="2.5"/><circle cx="547.42" cy="190.67" r="2.5"/><circle cx="548.34" cy="190.76" r="2.5"/><circle cx="549.27" cy="191.00" r="2.5"/><circle cx="550.19" cy="190.73" r="2.5"/><circle cx="551.12" cy="191.00" r="2.5"/><circle cx="552.04" cy="191.12" r="2.5"/><circle cx="552.97" cy="190.88" r="2.5"/><circle cx="553.89" cy="190.82" r="2.5"/><circle cx="554.81" cy="190.87" r="2.5"/><circle cx="555.74" cy="190.97" r="2.5"/><circle cx="556.66" cy="191.01" r="2.5"/><circle cx="557.59" cy="190.93" r="2.5"/><circle cx="558.51" cy="190.95" r="2.5"/><circle cx="559.44" cy="190.66" r="2.5"/><circle cx="560.36" cy="190.70" r="2.5"/><circle cx="561.28" cy="190.75" r="2.5"/><circle cx="562.21" cy="190.99" r="2.5"/><circle cx="563.13" cy="190.77" r="2.5"/><circle cx="564.06" cy="190.90" r="2.5"/><circle cx="564.98" cy="190.62" r="2.5"/><circle cx="565.91" cy="190.65" r="2.5"/><circle cx="566.83" cy="190.75" r="2.5"/><circle cx="567.75" cy="190.95" r="2.5"/><circle cx="568.68" cy="190.96" r="2.5"/><circle cx="569.60" cy="190.95" r="2.5"/><circle cx="570.53" cy="190.76" r="2.5"/><circle cx="571.45" cy="190.87" r="2.5"/><circle cx="572.38" cy="190.84" r="2.5"/><circle cx="573.30" cy="190.84" r="2.5"/><circle cx="574.22" cy="190.66" r="2.5"/><circle cx="575.15" cy="191.05" r="2.5"/><circle cx="576.07" cy="190.70" r="2.5"/><circle cx="577.00" cy="191.09" r="2.5"/><circle cx="577.92" cy="191.07" r="2.5"/><circle cx="578.85" cy="190.61" r="2.5"/><circle cx="579.77" cy="190.83" r="2.5"/><circle cx="580.69" cy="191.00" r="2.5"/><circle cx="581.62" cy="191.08" r="2.5"/><circle cx="582.54" cy="190.82" r="2.5"/><circle cx="583.47" cy="190.72" r="2.5"/><circle cx="584.39" cy="190.69" r="2.5"/><circle cx="585.31" cy="191.06" r="2.5"/><circle cx="586.24" cy="190.69" r="2.5"/><circle cx="587.16" cy="190.87" r="2.5"/><circle cx="588.09" cy="190.65" r="2.5"/><circle cx="589.01" cy="190.84" r="2.5"/><circle cx="589.94" cy="191.05" r="2.5"/><circle cx="590.86" cy="190.64" r="2.5"/><circle cx="591.78" cy="190.98" r="2.5"/><circle cx="592.71" cy="190.83" r="2.5"/><circle cx="593.63" cy="191.01" r="2.5"/><circle cx="594.56" cy="190.92" r="2.5"/><circle cx="595.48" cy="190.68" r="2.5"/><circle cx="596.41" cy="191.01" r="2.5"/><circle cx="597.33" cy="190.80" r="2.5"/><circle cx="598.25" cy="190.57" r="2.5"/><circle cx="599.18" cy="190.56" r="2.5"/><circle cx="600.10" cy="190.80" r="2.5"/><circle cx="601.03" cy="190.78" r="2.5"/><circle cx="601.95" cy="190.70" r="2.5"/><circle cx="602.88" cy="190.62" r="2.5"/><circle cx="603.80" cy="190.72" r="2.5"/><circle cx="604.72" cy="190.70" r="2.5"/><circle cx="605.65" cy="190.96" r="2.5"/><circle cx="606.57" cy="190.54" r="2.5"/><circle cx="607.50" cy="190.91" r="2.5"/><circle cx="608.42" cy="190.95" r="2.5"/><circle cx="609.35" cy="190.59" r="2.5"/></g>
<rect x="55.35" y="8.4" width="554.55" height="446.55" fill="none" stroke="#000" stroke-width="1.7"/>
<path d="M46.35 454.95H55.35M46.35 380.52H55.35M46.35 306.10H55.35M46.35 231.68H55.35M46.35 157.25H55.35M46.35 82.82H55.35M46.35 8.40H55.35M50.85 417.74H55.35M50.85 343.31H55.35M50.85 268.89H55.35M50.85 194.46H55.35M50.85 120.04H55.35M50.85 45.61H55.35M55.35 454.95V463.65M147.78 454.95V463.65M240.20 454.95V463.65M332.62 454.95V463.65M425.05 454.95V463.65M517.47 454.95V463.65M609.90 454.95V463.65M101.56 454.95V459.45M193.99 454.95V459.45M286.41 454.95V459.45M378.84 454.95V459.45M471.26 454.95V459.45M563.69 454.95V459.45" stroke="#000" stroke-width="1.7" fill="none"/>
<text x="40.5" y="460.55" text-anchor="end">0</text><text x="40.5" y="386.12" text-anchor="end"><tspan class="o">1</tspan></text><text x="40.5" y="311.70" text-anchor="end">2</text><text x="40.5" y="237.28" text-anchor="end">3</text><text x="40.5" y="162.85" text-anchor="end">4</text><text x="40.5" y="88.42" text-anchor="end">5</text><text x="40.5" y="14.00" text-anchor="end">6</text>
<text x="55.35" y="484.3" text-anchor="middle">0</text><text x="147.78" y="484.3" text-anchor="middle">25</text><text x="240.20" y="484.3" text-anchor="middle">50</text><text x="332.62" y="484.3" text-anchor="middle">75</text><text x="425.05" y="484.3" text-anchor="middle"><tspan class="o">1</tspan>00</text><text x="517.47" y="484.3" text-anchor="middle"><tspan class="o">1</tspan>25</text><text x="609.90" y="484.3" text-anchor="middle"><tspan class="o">1</tspan>50</text>
<text x="332.5" y="519.2" text-anchor="middle">T (K)</text>
<text transform="translate(16.7,0) rotate(-90)"><tspan x="-295.7" font-size="12.44" dy="5.3">M</tspan><tspan x="-284.7" dy="-5.3">T (cm</tspan><tspan font-size="12.44" dy="-7">3</tspan><tspan dy="7" dx="1.2"> K mol</tspan><tspan font-size="12.44" dy="-7" dx="0.6">-<tspan class="o">1</tspan></tspan><tspan dy="7">)</tspan></text>
<path d="M8.9 297.6L21 304.3" stroke="#000" stroke-width="1.7" fill="none"/>
<path d="M19.1 296.2C20.6 296.6 21.6 297.6 20.9 298.6C19.5 300.4 12 301.5 10.2 302.8C9.3 303.5 9.3 304.6 10.4 305.3" stroke="#000" stroke-width="1.15" fill="none"/>
<text x="102" y="410.5">H = <tspan class="o">1</tspan>kOe</text>
<g>
<circle cx="391.4" cy="348.8" r="4.85" fill="#000"/>
<circle cx="391.4" cy="377.0" r="4.85" fill="#f50000"/>
<circle cx="391.4" cy="405.1" r="4.85" fill="#3169a5"/>
</g>
<text x="418" y="355"><tspan font-weight="bold">3</tspan><tspan font-size="12.44" dy="5.6">deh</tspan></text>
<text x="418" y="383.2"><tspan font-weight="bold">3</tspan><tspan font-size="12.44" dy="5.6">deh</tspan><tspan dy="-5.6"> after irradiation</tspan></text>
<text x="418" y="411.5"><tspan font-weight="bold">3</tspan><tspan font-size="12.44" dy="5.6">deh</tspan><tspan dy="-5.6"> after relaxation</tspan></text>
<path d="M37.00 386.12 L35.33 386.12 L35.33 375.48 Q34.73 376.05 33.75 376.63 Q32.78 377.20 31.99 377.48 L31.99 375.90 Q33.34 375.27 34.35 374.37 Q35.36 373.48 35.78 373.05 L37.00 373.05 ZM416.27 484.30 L414.60 484.30 L414.60 473.66 Q414.00 474.23 413.02 474.81 Q412.05 475.38 411.26 475.66 L411.26 474.08 Q412.60 473.45 413.62 472.55 Q414.63 471.66 415.04 471.23 L416.27 471.23 ZM508.69 484.30 L507.02 484.30 L507.02 473.66 Q506.42 474.23 505.44 474.81 Q504.47 475.38 503.68 475.66 L503.68 474.08 Q505.02 473.45 506.04 472.55 Q507.05 471.66 507.46 471.23 L508.69 471.23 ZM601.12 484.30 L599.45 484.30 L599.45 473.66 Q598.85 474.23 597.87 474.81 Q596.90 475.38 596.11 475.66 L596.11 474.08 Q597.45 473.45 598.47 472.55 Q599.48 471.66 599.89 471.23 L601.12 471.23 ZM144.45 410.50 L142.78 410.50 L142.78 399.86 Q142.18 400.43 141.21 401.01 Q140.23 401.58 139.44 401.86 L139.44 400.28 Q140.79 399.65 141.80 398.75 Q142.81 397.86 143.23 397.43 L144.45 397.43 Z" fill="#000"/><path transform="translate(16.7,0) rotate(-90)" d="M-165.12 -7.00 L-166.22 -7.00 L-166.22 -13.97 Q-166.61 -13.59 -167.25 -13.21 Q-167.89 -12.84 -168.40 -12.66 L-168.40 -13.69 Q-167.52 -14.11 -166.86 -14.69 Q-166.20 -15.27 -165.93 -15.56 L-165.12 -15.56 Z" fill="#000"/>
</svg>
</body></html>
